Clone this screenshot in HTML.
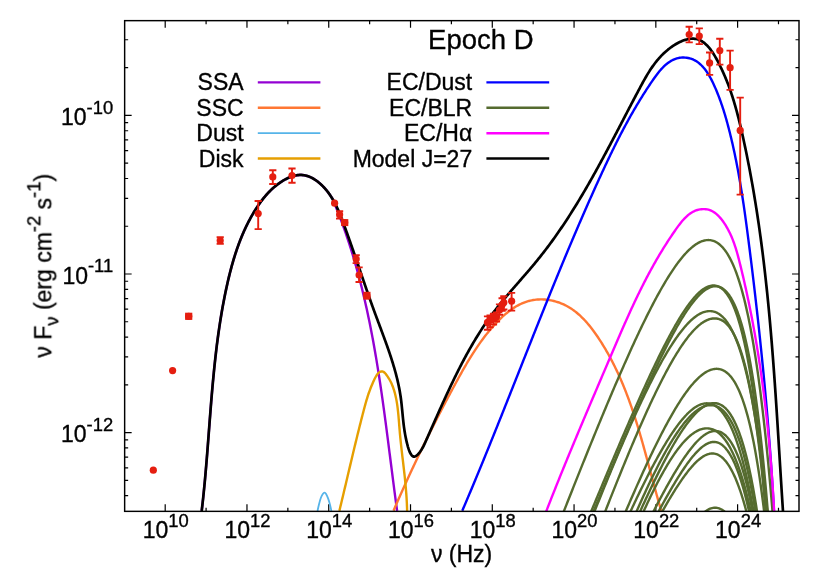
<!DOCTYPE html>
<html><head><meta charset="utf-8"><title>Epoch D SED</title>
<style>html,body{margin:0;padding:0;background:#fff;}body{width:830px;height:581px;overflow:hidden;font-family:"Liberation Sans",sans-serif;}</style></head>
<body>
<svg width="830" height="581" viewBox="0 0 830 581" style="display:block">
<rect width="100%" height="100%" fill="#fff"/>
<defs><clipPath id="cp"><rect x="124.65" y="20.65" width="674.35" height="490.70"/></clipPath></defs>
<path d="M165.20,511.35 v-7.00 M165.20,20.65 v7.00 M206.09,511.35 v-3.50 M206.09,20.65 v3.50 M246.97,511.35 v-7.00 M246.97,20.65 v7.00 M287.86,511.35 v-3.50 M287.86,20.65 v3.50 M328.74,511.35 v-7.00 M328.74,20.65 v7.00 M369.63,511.35 v-3.50 M369.63,20.65 v3.50 M410.52,511.35 v-7.00 M410.52,20.65 v7.00 M451.40,511.35 v-3.50 M451.40,20.65 v3.50 M492.29,511.35 v-7.00 M492.29,20.65 v7.00 M533.17,511.35 v-3.50 M533.17,20.65 v3.50 M574.06,511.35 v-7.00 M574.06,20.65 v7.00 M614.95,511.35 v-3.50 M614.95,20.65 v3.50 M655.83,511.35 v-7.00 M655.83,20.65 v7.00 M696.72,511.35 v-3.50 M696.72,20.65 v3.50 M737.60,511.35 v-7.00 M737.60,20.65 v7.00 M778.49,511.35 v-3.50 M778.49,20.65 v3.50 M124.65,495.71 h3.50 M799.00,495.71 h-3.50 M124.65,480.34 h3.50 M799.00,480.34 h-3.50 M124.65,467.79 h3.50 M799.00,467.79 h-3.50 M124.65,457.17 h3.50 M799.00,457.17 h-3.50 M124.65,447.97 h3.50 M799.00,447.97 h-3.50 M124.65,439.86 h3.50 M799.00,439.86 h-3.50 M124.65,432.60 h7.00 M799.00,432.60 h-7.00 M124.65,384.86 h3.50 M799.00,384.86 h-3.50 M124.65,356.93 h3.50 M799.00,356.93 h-3.50 M124.65,337.11 h3.50 M799.00,337.11 h-3.50 M124.65,321.74 h3.50 M799.00,321.74 h-3.50 M124.65,309.19 h3.50 M799.00,309.19 h-3.50 M124.65,298.57 h3.50 M799.00,298.57 h-3.50 M124.65,289.37 h3.50 M799.00,289.37 h-3.50 M124.65,281.26 h3.50 M799.00,281.26 h-3.50 M124.65,274.00 h7.00 M799.00,274.00 h-7.00 M124.65,226.26 h3.50 M799.00,226.26 h-3.50 M124.65,198.33 h3.50 M799.00,198.33 h-3.50 M124.65,178.51 h3.50 M799.00,178.51 h-3.50 M124.65,163.14 h3.50 M799.00,163.14 h-3.50 M124.65,150.59 h3.50 M799.00,150.59 h-3.50 M124.65,139.97 h3.50 M799.00,139.97 h-3.50 M124.65,130.77 h3.50 M799.00,130.77 h-3.50 M124.65,122.66 h3.50 M799.00,122.66 h-3.50 M124.65,115.40 h7.00 M799.00,115.40 h-7.00 M124.65,67.66 h3.50 M799.00,67.66 h-3.50 M124.65,39.73 h3.50 M799.00,39.73 h-3.50" stroke="#000" stroke-width="1.2" fill="none"/>
<g clip-path="url(#cp)" fill="none" stroke-linejoin="round" stroke-linecap="butt">
<path d="M201.68,510.99 L201.86,509.50 L202.03,508.01 L202.21,506.52 L202.38,505.02 L202.54,503.53 L202.71,502.04 L202.87,500.54 L203.04,499.05 L203.20,497.55 L203.35,496.06 L203.51,494.57 L203.66,493.07 L203.81,491.58 L203.96,490.08 L204.11,488.59 L204.26,487.09 L204.40,485.59 L204.55,484.10 L204.69,482.60 L204.83,481.11 L204.97,479.61 L205.11,478.11 L205.24,476.62 L205.38,475.12 L205.51,473.62 L205.64,472.13 L205.77,470.63 L205.90,469.13 L206.03,467.63 L206.16,466.14 L206.28,464.64 L206.41,463.14 L206.53,461.64 L206.65,460.14 L206.78,458.65 L206.90,457.15 L207.02,455.65 L207.14,454.15 L207.26,452.65 L207.38,451.15 L207.49,449.66 L207.61,448.16 L207.73,446.66 L207.85,445.16 L207.96,443.66 L208.08,442.16 L208.19,440.66 L208.31,439.16 L208.42,437.67 L208.54,436.17 L208.65,434.67 L208.76,433.17 L208.88,431.67 L208.99,430.17 L209.11,428.67 L209.22,427.17 L209.34,425.68 L209.45,424.18 L209.56,422.68 L209.68,421.18 L209.79,419.68 L209.91,418.18 L210.03,416.68 L210.14,415.19 L210.26,413.69 L210.38,412.19 L210.49,410.69 L210.61,409.19 L210.73,407.70 L210.85,406.20 L210.97,404.70 L211.09,403.20 L211.21,401.70 L211.34,400.21 L211.46,398.71 L211.59,397.21 L211.71,395.72 L211.84,394.22 L211.97,392.72 L212.09,391.23 L212.23,389.73 L212.36,388.23 L212.49,386.74 L212.62,385.24 L212.76,383.75 L212.89,382.25 L213.03,380.75 L213.17,379.26 L213.31,377.76 L213.46,376.27 L213.60,374.78 L213.75,373.28 L213.89,371.79 L214.04,370.29 L214.19,368.80 L214.35,367.31 L214.50,365.81 L214.66,364.32 L214.82,362.83 L214.98,361.33 L215.14,359.84 L215.31,358.35 L215.47,356.86 L215.64,355.37 L215.82,353.88 L215.99,352.39 L216.17,350.90 L216.34,349.41 L216.52,347.92 L216.71,346.43 L216.89,344.94 L217.08,343.45 L217.27,341.96 L217.47,340.47 L217.66,338.98 L217.86,337.50 L218.07,336.01 L218.27,334.52 L218.48,333.04 L218.69,331.55 L218.90,330.07 L219.12,328.58 L219.34,327.09 L219.56,325.61 L219.79,324.13 L220.02,322.64 L220.25,321.16 L220.48,319.68 L220.72,318.19 L220.96,316.71 L221.21,315.23 L221.46,313.75 L221.71,312.27 L221.97,310.79 L222.23,309.31 L222.49,307.83 L222.76,306.35 L223.03,304.87 L223.30,303.39 L223.58,301.92 L223.86,300.44 L224.15,298.96 L224.44,297.49 L224.73,296.01 L225.03,294.54 L225.33,293.06 L225.64,291.59 L225.95,290.11 L226.26,288.64 L226.58,287.17 L226.90,285.70 L227.23,284.22 L227.56,282.75 L227.90,281.29 L228.24,279.82 L228.59,278.35 L228.94,276.88 L229.30,275.42 L229.66,273.96 L230.03,272.50 L230.41,271.04 L230.79,269.58 L231.18,268.12 L231.57,266.67 L231.97,265.22 L232.38,263.77 L232.79,262.32 L233.21,260.88 L233.64,259.44 L234.08,258.00 L234.52,256.56 L234.97,255.13 L235.43,253.70 L235.90,252.27 L236.37,250.85 L236.85,249.43 L237.34,248.01 L237.84,246.60 L238.35,245.19 L238.87,243.79 L239.39,242.39 L239.93,240.99 L240.47,239.59 L241.03,238.21 L241.59,236.82 L242.16,235.44 L242.75,234.06 L243.34,232.69 L243.94,231.33 L244.56,229.97 L245.18,228.61 L245.81,227.26 L246.46,225.91 L247.12,224.57 L247.78,223.24 L248.46,221.91 L249.15,220.58 L249.85,219.27 L250.57,217.95 L251.29,216.65 L252.03,215.35 L252.78,214.05 L253.54,212.77 L254.31,211.49 L255.10,210.21 L255.90,208.94 L256.71,207.68 L257.54,206.43 L258.38,205.19 L259.23,203.95 L260.11,202.73 L260.99,201.51 L261.90,200.31 L262.82,199.12 L263.76,197.95 L264.71,196.78 L265.69,195.64 L266.69,194.51 L267.70,193.39 L268.74,192.29 L269.80,191.21 L270.88,190.15 L271.98,189.10 L273.10,188.08 L274.25,187.08 L275.43,186.10 L276.62,185.14 L277.85,184.20 L279.10,183.29 L280.37,182.40 L281.67,181.54 L283.00,180.72 L284.34,179.93 L285.70,179.18 L287.08,178.47 L288.47,177.82 L289.88,177.22 L291.29,176.68 L292.71,176.21 L294.14,175.80 L295.57,175.46 L297.00,175.21 L298.42,175.03 L299.85,174.94 L301.26,174.94 L302.67,175.03 L304.07,175.22 L305.45,175.49 L306.83,175.85 L308.19,176.29 L309.53,176.80 L310.86,177.38 L312.17,178.04 L313.47,178.76 L314.74,179.53 L315.99,180.37 L317.22,181.26 L318.42,182.19 L319.60,183.17 L320.76,184.20 L321.88,185.26 L322.98,186.35 L324.05,187.48 L325.08,188.62 L326.08,189.80 L327.05,190.98 L327.99,192.19 L328.90,193.41 L329.77,194.65 L330.62,195.91 L331.44,197.18 L332.23,198.46 L333.00,199.76 L333.78,201.89 L334.36,203.29 L334.94,204.69 L335.52,206.10 L336.09,207.50 L336.65,208.91 L337.22,210.31 L337.77,211.72 L338.33,213.13 L338.88,214.54 L339.42,215.95 L339.96,217.36 L340.50,218.78 L341.03,220.19 L341.56,221.61 L342.08,223.02 L342.60,224.44 L343.12,225.86 L343.63,227.28 L344.13,228.70 L344.64,230.13 L345.14,231.55 L345.63,232.97 L346.12,234.40 L346.61,235.83 L347.10,237.26 L347.58,238.68 L348.05,240.11 L348.52,241.55 L348.99,242.98 L349.46,244.41 L349.92,245.84 L350.38,247.28 L350.83,248.72 L351.28,250.15 L351.73,251.59 L352.17,253.03 L352.61,254.47 L353.04,255.91 L353.47,257.35 L353.90,258.79 L354.33,260.24 L354.75,261.68 L355.17,263.13 L355.58,264.58 L355.99,266.02 L356.40,267.47 L356.81,268.92 L357.21,270.37 L357.61,271.82 L358.00,273.27 L358.39,274.72 L358.78,276.18 L359.17,277.63 L359.55,279.09 L359.93,280.54 L360.31,282.00 L360.68,283.46 L361.05,284.91 L361.42,286.37 L361.78,287.83 L362.14,289.29 L362.50,290.75 L362.85,292.22 L363.21,293.68 L363.55,295.14 L363.90,296.61 L364.25,298.07 L364.59,299.54 L364.92,301.00 L365.26,302.47 L365.59,303.94 L365.92,305.41 L366.25,306.87 L366.57,308.34 L366.90,309.81 L367.22,311.29 L367.53,312.76 L367.85,314.23 L368.16,315.70 L368.47,317.18 L368.78,318.65 L369.08,320.12 L369.38,321.60 L369.68,323.07 L369.98,324.55 L370.28,326.03 L370.57,327.51 L370.86,328.98 L371.15,330.46 L371.43,331.94 L371.72,333.42 L372.00,334.90 L372.28,336.38 L372.56,337.86 L372.83,339.34 L373.10,340.83 L373.38,342.31 L373.64,343.79 L373.91,345.28 L374.18,346.76 L374.44,348.24 L374.70,349.73 L374.96,351.21 L375.22,352.70 L375.47,354.19 L375.73,355.67 L375.98,357.16 L376.23,358.65 L376.48,360.13 L376.73,361.62 L376.97,363.11 L377.21,364.60 L377.46,366.09 L377.70,367.58 L377.94,369.07 L378.17,370.56 L378.41,372.05 L378.64,373.54 L378.88,375.03 L379.11,376.52 L379.34,378.01 L379.56,379.50 L379.79,381.00 L380.02,382.49 L380.24,383.98 L380.46,385.47 L380.69,386.97 L380.91,388.46 L381.13,389.95 L381.34,391.45 L381.56,392.94 L381.78,394.44 L381.99,395.93 L382.20,397.42 L382.42,398.92 L382.63,400.41 L382.84,401.91 L383.05,403.40 L383.25,404.90 L383.46,406.40 L383.67,407.89 L383.87,409.39 L384.08,410.88 L384.28,412.38 L384.48,413.87 L384.69,415.37 L384.89,416.87 L385.09,418.36 L385.29,419.86 L385.49,421.36 L385.69,422.85 L385.88,424.35 L386.08,425.84 L386.28,427.34 L386.47,428.84 L386.67,430.33 L386.86,431.83 L387.06,433.33 L387.25,434.82 L387.45,436.32 L387.64,437.82 L387.83,439.31 L388.03,440.81 L388.22,442.31 L388.41,443.80 L388.60,445.30 L388.79,446.79 L388.98,448.29 L389.17,449.79 L389.36,451.28 L389.55,452.78 L389.75,454.27 L389.94,455.77 L390.13,457.26 L390.32,458.76 L390.51,460.25 L390.70,461.75 L390.89,463.24 L391.08,464.74 L391.27,466.23 L391.46,467.72 L391.65,469.22 L391.84,470.71 L392.03,472.21 L392.22,473.70 L392.41,475.19 L392.60,476.68 L392.79,478.18 L392.98,479.67 L393.18,481.16 L393.37,482.65 L393.56,484.14 L393.76,485.63 L393.95,487.13 L394.14,488.62 L394.34,490.11 L394.53,491.60 L394.73,493.09 L394.93,494.57 L395.12,496.06 L395.32,497.55 L395.52,499.04 L395.72,500.53 L395.92,502.02 L396.12,503.50 L396.32,504.99 L396.52,506.47 L396.72,507.96 L396.92,509.45 L397.13,510.93" stroke="#9400D3" stroke-width="2.40"/>
<path d="M393.54,510.68 L394.13,509.31 L394.72,507.94 L395.31,506.57 L395.90,505.20 L396.50,503.83 L397.10,502.46 L397.69,501.09 L398.29,499.72 L398.90,498.35 L399.50,496.98 L400.11,495.61 L400.72,494.24 L401.33,492.87 L401.94,491.50 L402.55,490.13 L403.16,488.76 L403.78,487.39 L404.40,486.02 L405.02,484.65 L405.64,483.28 L406.26,481.92 L406.89,480.55 L407.52,479.18 L408.14,477.81 L408.77,476.44 L409.41,475.07 L410.04,473.71 L410.67,472.34 L411.31,470.97 L411.95,469.61 L412.59,468.24 L413.23,466.87 L413.87,465.51 L414.51,464.14 L415.16,462.78 L415.81,461.41 L416.45,460.05 L417.10,458.69 L417.75,457.32 L418.41,455.96 L419.06,454.60 L419.72,453.24 L420.37,451.88 L421.03,450.52 L421.69,449.16 L422.35,447.80 L423.02,446.44 L423.68,445.08 L424.34,443.72 L425.01,442.37 L425.68,441.01 L426.35,439.66 L427.02,438.30 L427.69,436.95 L428.36,435.59 L429.04,434.24 L429.71,432.89 L430.39,431.54 L431.07,430.19 L431.75,428.84 L432.43,427.49 L433.11,426.14 L433.79,424.79 L434.48,423.44 L435.16,422.10 L435.85,420.75 L436.54,419.41 L437.22,418.07 L437.91,416.73 L438.61,415.38 L439.30,414.04 L439.99,412.70 L440.68,411.37 L441.38,410.03 L442.08,408.69 L442.77,407.36 L443.47,406.02 L444.17,404.69 L444.87,403.36 L445.57,402.03 L446.27,400.70 L446.98,399.37 L447.68,398.04 L448.39,396.71 L449.09,395.39 L449.80,394.06 L450.51,392.74 L451.22,391.42 L451.93,390.10 L452.64,388.78 L453.35,387.46 L454.06,386.14 L454.77,384.83 L455.49,383.51 L456.20,382.20 L456.92,380.89 L457.64,379.58 L458.35,378.27 L459.07,376.96 L459.80,375.66 L460.52,374.36 L461.25,373.05 L461.98,371.75 L462.71,370.46 L463.45,369.16 L464.19,367.87 L464.93,366.58 L465.68,365.29 L466.44,364.00 L467.19,362.72 L467.96,361.44 L468.73,360.16 L469.50,358.89 L470.28,357.62 L471.07,356.35 L471.86,355.08 L472.66,353.82 L473.46,352.56 L474.28,351.30 L475.10,350.05 L475.93,348.80 L476.76,347.56 L477.61,346.32 L478.46,345.08 L479.33,343.84 L480.20,342.62 L481.08,341.39 L481.97,340.17 L482.87,338.95 L483.78,337.74 L484.70,336.53 L485.64,335.33 L486.58,334.13 L487.54,332.93 L488.50,331.74 L489.48,330.56 L490.47,329.38 L491.48,328.21 L492.49,327.04 L493.52,325.88 L494.56,324.72 L495.62,323.58 L496.68,322.44 L497.76,321.32 L498.86,320.22 L499.96,319.12 L501.08,318.05 L502.21,316.99 L503.35,315.95 L504.51,314.92 L505.68,313.92 L506.86,312.95 L508.05,311.99 L509.26,311.06 L510.48,310.16 L511.71,309.28 L512.96,308.44 L514.21,307.62 L515.48,306.83 L516.77,306.08 L518.07,305.36 L519.37,304.68 L520.70,304.03 L522.03,303.42 L523.38,302.85 L524.74,302.31 L526.12,301.82 L527.50,301.38 L528.90,300.97 L530.32,300.62 L531.74,300.31 L533.18,300.04 L534.63,299.82 L536.09,299.65 L537.55,299.52 L539.03,299.44 L540.50,299.41 L541.99,299.41 L543.47,299.46 L544.95,299.56 L546.44,299.69 L547.92,299.87 L549.39,300.09 L550.87,300.35 L552.33,300.65 L553.79,300.99 L555.24,301.37 L556.68,301.78 L558.10,302.24 L559.51,302.73 L560.91,303.27 L562.29,303.83 L563.65,304.44 L564.99,305.08 L566.32,305.75 L567.62,306.46 L568.90,307.20 L570.16,307.98 L571.40,308.78 L572.63,309.62 L573.84,310.49 L575.02,311.38 L576.20,312.30 L577.35,313.25 L578.48,314.22 L579.60,315.22 L580.71,316.24 L581.79,317.28 L582.86,318.35 L583.92,319.43 L584.96,320.54 L585.99,321.66 L587.00,322.80 L587.99,323.96 L588.98,325.14 L589.95,326.33 L590.90,327.53 L591.85,328.75 L592.78,329.97 L593.70,331.21 L594.60,332.46 L595.50,333.72 L596.38,334.99 L597.26,336.26 L598.12,337.54 L598.97,338.83 L599.81,340.12 L600.65,341.41 L601.47,342.70 L602.28,344.00 L603.09,345.31 L603.88,346.61 L604.67,347.92 L605.45,349.23 L606.21,350.55 L606.97,351.87 L607.72,353.19 L608.47,354.51 L609.20,355.84 L609.92,357.17 L610.64,358.50 L611.35,359.84 L612.05,361.17 L612.74,362.52 L613.43,363.86 L614.11,365.21 L614.78,366.56 L615.44,367.91 L616.09,369.26 L616.74,370.62 L617.38,371.98 L618.01,373.34 L618.64,374.71 L619.26,376.07 L619.87,377.44 L620.48,378.82 L621.07,380.19 L621.67,381.57 L622.25,382.95 L622.83,384.33 L623.41,385.71 L623.97,387.10 L624.53,388.49 L625.09,389.88 L625.64,391.27 L626.18,392.66 L626.72,394.06 L627.25,395.46 L627.78,396.86 L628.30,398.26 L628.82,399.66 L629.33,401.07 L629.84,402.48 L630.34,403.89 L630.84,405.30 L631.33,406.71 L631.82,408.13 L632.30,409.54 L632.78,410.96 L633.26,412.38 L633.73,413.80 L634.20,415.23 L634.66,416.65 L635.12,418.08 L635.58,419.51 L636.03,420.94 L636.48,422.37 L636.92,423.80 L637.36,425.23 L637.80,426.67 L638.24,428.10 L638.67,429.54 L639.10,430.98 L639.53,432.42 L639.95,433.86 L640.37,435.30 L640.79,436.74 L641.21,438.19 L641.62,439.63 L642.04,441.08 L642.45,442.52 L642.86,443.97 L643.26,445.42 L643.67,446.87 L644.07,448.32 L644.47,449.77 L644.87,451.22 L645.27,452.67 L645.67,454.13 L646.06,455.58 L646.46,457.04 L646.85,458.49 L647.25,459.95 L647.64,461.40 L648.03,462.86 L648.43,464.32 L648.82,465.78 L649.21,467.23 L649.60,468.69 L649.99,470.15 L650.38,471.61 L650.77,473.07 L651.16,474.53 L651.56,475.99 L651.95,477.45 L652.34,478.91 L652.73,480.37 L653.13,481.83 L653.52,483.29 L653.92,484.75 L654.31,486.21 L654.71,487.67 L655.11,489.13 L655.51,490.59 L655.91,492.05 L656.32,493.51 L656.72,494.97 L657.13,496.43 L657.54,497.89 L657.95,499.35 L658.36,500.81 L658.78,502.27 L659.20,503.72 L659.62,505.18 L660.04,506.64 L660.46,508.09 L660.89,509.55 L661.32,511.01" stroke="#FF7733" stroke-width="2.40"/>
<path d="M317.50,511.00 C317.73,509.95 318.35,506.87 318.90,504.70 C319.45,502.53 320.15,499.77 320.80,498.00 C321.45,496.23 322.18,494.98 322.80,494.10 C323.42,493.22 323.95,492.73 324.50,492.70 C325.05,492.67 325.50,492.95 326.10,493.90 C326.70,494.85 327.45,496.60 328.10,498.40 C328.75,500.20 329.45,502.60 330.00,504.70 C330.55,506.80 331.17,509.95 331.40,511.00" stroke="#56B4E9" stroke-width="1.80"/>
<path d="M339.36,510.90 L339.71,509.46 L340.06,508.03 L340.41,506.59 L340.75,505.14 L341.10,503.70 L341.45,502.25 L341.80,500.80 L342.14,499.34 L342.49,497.88 L342.84,496.42 L343.19,494.96 L343.54,493.50 L343.88,492.03 L344.23,490.56 L344.58,489.09 L344.93,487.62 L345.28,486.14 L345.63,484.67 L345.97,483.19 L346.32,481.71 L346.67,480.23 L347.02,478.75 L347.37,477.27 L347.72,475.78 L348.07,474.30 L348.42,472.81 L348.77,471.33 L349.12,469.84 L349.47,468.36 L349.82,466.87 L350.18,465.38 L350.53,463.90 L350.88,462.41 L351.23,460.92 L351.59,459.43 L351.94,457.95 L352.29,456.46 L352.65,454.98 L353.00,453.49 L353.35,452.01 L353.71,450.53 L354.07,449.04 L354.42,447.56 L354.78,446.08 L355.13,444.61 L355.49,443.13 L355.85,441.65 L356.21,440.18 L356.57,438.71 L356.93,437.24 L357.29,435.77 L357.65,434.31 L358.01,432.84 L358.37,431.38 L358.73,429.92 L359.09,428.47 L359.46,427.01 L359.82,425.56 L360.19,424.11 L360.55,422.67 L360.92,421.23 L361.28,419.79 L361.65,418.35 L362.02,416.92 L362.39,415.49 L362.76,414.07 L363.13,412.65 L363.50,411.23 L363.87,409.82 L364.24,408.41 L364.61,407.00 L364.99,405.60 L365.38,404.19 L365.77,402.78 L366.17,401.37 L366.59,399.96 L367.02,398.54 L367.46,397.11 L367.92,395.67 L368.40,394.22 L368.90,392.76 L369.42,391.29 L369.97,389.80 L370.55,388.29 L371.15,386.77 L371.79,385.22 L372.45,383.66 L373.15,382.07 L373.89,380.45 L374.67,378.83 L375.48,377.24 L376.35,375.74 L377.27,374.38 L378.24,373.22 L379.28,372.30 L380.38,371.68 L381.51,371.39 L382.63,371.47 L383.69,371.95 L384.69,372.76 L385.62,373.80 L386.50,374.94 L387.34,376.11 L388.14,377.30 L388.89,378.52 L389.61,379.76 L390.29,381.03 L390.94,382.31 L391.54,383.62 L392.12,384.95 L392.66,386.29 L393.17,387.66 L393.64,389.04 L394.09,390.44 L394.52,391.85 L394.91,393.28 L395.28,394.73 L395.62,396.18 L395.95,397.65 L396.25,399.13 L396.53,400.63 L396.79,402.13 L397.03,403.64 L397.26,405.16 L397.47,406.69 L397.66,408.22 L397.84,409.77 L398.02,411.31 L398.18,412.86 L398.33,414.42 L398.47,415.97 L398.61,417.53 L398.74,419.09 L398.87,420.65 L398.99,422.21 L399.11,423.77 L399.23,425.32 L399.36,426.88 L399.48,428.42 L399.61,429.97 L399.74,431.51 L399.87,433.04 L400.02,434.57 L400.16,436.09 L400.31,437.61 L400.46,439.12 L400.61,440.63 L400.77,442.14 L400.93,443.64 L401.09,445.14 L401.26,446.63 L401.43,448.12 L401.59,449.61 L401.77,451.10 L401.94,452.58 L402.11,454.06 L402.28,455.54 L402.46,457.02 L402.63,458.50 L402.81,459.97 L402.98,461.45 L403.16,462.92 L403.33,464.39 L403.50,465.87 L403.68,467.34 L403.85,468.81 L404.02,470.29 L404.18,471.76 L404.35,473.24 L404.51,474.71 L404.67,476.19 L404.83,477.67 L404.98,479.15 L405.13,480.63 L405.28,482.12 L405.43,483.61 L405.57,485.10 L405.70,486.59 L405.84,488.09 L405.96,489.59 L406.08,491.09 L406.20,492.60 L406.31,494.11 L406.42,495.63 L406.52,497.15 L406.61,498.68 L406.70,500.21 L406.78,501.75 L406.86,503.29 L406.92,504.84 L406.98,506.40 L407.04,507.96 L407.08,509.52 L407.12,511.10" stroke="#E69F00" stroke-width="2.40"/>
<path d="M462.25,510.80 L462.83,509.44 L463.41,508.08 L464.00,506.71 L464.58,505.35 L465.16,503.98 L465.75,502.62 L466.33,501.25 L466.91,499.88 L467.49,498.51 L468.07,497.14 L468.65,495.77 L469.23,494.40 L469.80,493.03 L470.38,491.66 L470.96,490.29 L471.54,488.92 L472.11,487.54 L472.69,486.17 L473.26,484.79 L473.84,483.42 L474.41,482.04 L474.98,480.67 L475.56,479.29 L476.13,477.91 L476.70,476.53 L477.27,475.16 L477.85,473.78 L478.42,472.40 L478.99,471.02 L479.56,469.64 L480.13,468.26 L480.70,466.87 L481.27,465.49 L481.83,464.11 L482.40,462.72 L482.97,461.34 L483.54,459.96 L484.10,458.57 L484.67,457.19 L485.24,455.80 L485.80,454.41 L486.37,453.03 L486.93,451.64 L487.50,450.25 L488.06,448.87 L488.63,447.48 L489.19,446.09 L489.75,444.70 L490.32,443.31 L490.88,441.92 L491.44,440.53 L492.01,439.14 L492.57,437.75 L493.13,436.36 L493.69,434.96 L494.25,433.57 L494.81,432.18 L495.37,430.79 L495.93,429.39 L496.50,428.00 L497.06,426.60 L497.62,425.21 L498.17,423.81 L498.73,422.42 L499.29,421.02 L499.85,419.63 L500.41,418.23 L500.97,416.84 L501.53,415.44 L502.09,414.04 L502.65,412.65 L503.20,411.25 L503.76,409.85 L504.32,408.45 L504.88,407.05 L505.43,405.66 L505.99,404.26 L506.55,402.86 L507.10,401.46 L507.66,400.06 L508.22,398.66 L508.78,397.26 L509.33,395.86 L509.89,394.46 L510.45,393.06 L511.00,391.66 L511.56,390.26 L512.11,388.86 L512.67,387.46 L513.23,386.06 L513.78,384.66 L514.34,383.25 L514.89,381.85 L515.45,380.45 L516.01,379.05 L516.56,377.65 L517.12,376.25 L517.67,374.84 L518.23,373.44 L518.79,372.04 L519.34,370.64 L519.90,369.23 L520.45,367.83 L521.01,366.43 L521.57,365.03 L522.12,363.62 L522.68,362.22 L523.24,360.82 L523.79,359.42 L524.35,358.01 L524.91,356.61 L525.46,355.21 L526.02,353.80 L526.58,352.40 L527.13,351.00 L527.69,349.59 L528.25,348.19 L528.80,346.79 L529.36,345.39 L529.92,343.98 L530.48,342.58 L531.04,341.18 L531.59,339.78 L532.15,338.37 L532.71,336.97 L533.27,335.57 L533.83,334.17 L534.39,332.76 L534.95,331.36 L535.50,329.96 L536.06,328.56 L536.62,327.15 L537.18,325.75 L537.74,324.35 L538.30,322.95 L538.87,321.55 L539.43,320.15 L539.99,318.75 L540.55,317.34 L541.11,315.94 L541.67,314.54 L542.23,313.14 L542.80,311.74 L543.36,310.34 L543.92,308.94 L544.49,307.54 L545.05,306.14 L545.61,304.74 L546.18,303.34 L546.74,301.95 L547.31,300.55 L547.87,299.15 L548.44,297.75 L549.01,296.35 L549.57,294.95 L550.14,293.56 L550.71,292.16 L551.27,290.76 L551.84,289.37 L552.41,287.97 L552.98,286.57 L553.55,285.18 L554.12,283.78 L554.69,282.39 L555.26,280.99 L555.83,279.60 L556.40,278.20 L556.97,276.81 L557.54,275.42 L558.12,274.02 L558.69,272.63 L559.26,271.24 L559.84,269.85 L560.41,268.45 L560.98,267.06 L561.56,265.67 L562.14,264.28 L562.71,262.89 L563.29,261.50 L563.87,260.11 L564.44,258.72 L565.02,257.33 L565.60,255.95 L566.18,254.56 L566.76,253.17 L567.34,251.78 L567.92,250.40 L568.50,249.01 L569.09,247.63 L569.67,246.24 L570.25,244.86 L570.84,243.47 L571.42,242.09 L572.01,240.71 L572.59,239.32 L573.18,237.94 L573.77,236.56 L574.35,235.18 L574.94,233.80 L575.53,232.42 L576.12,231.04 L576.71,229.66 L577.30,228.28 L577.89,226.91 L578.49,225.53 L579.08,224.15 L579.67,222.78 L580.27,221.40 L580.86,220.03 L581.46,218.65 L582.05,217.28 L582.65,215.91 L583.25,214.53 L583.85,213.16 L584.45,211.79 L585.05,210.42 L585.65,209.05 L586.25,207.68 L586.85,206.31 L587.45,204.94 L588.06,203.58 L588.66,202.21 L589.27,200.84 L589.87,199.48 L590.48,198.12 L591.09,196.75 L591.70,195.39 L592.31,194.03 L592.92,192.66 L593.53,191.30 L594.14,189.94 L594.75,188.58 L595.36,187.22 L595.98,185.87 L596.59,184.51 L597.21,183.15 L597.83,181.80 L598.45,180.44 L599.06,179.09 L599.68,177.73 L600.30,176.38 L600.93,175.03 L601.55,173.68 L602.17,172.33 L602.80,170.98 L603.42,169.63 L604.05,168.28 L604.68,166.94 L605.31,165.59 L605.94,164.24 L606.57,162.90 L607.21,161.55 L607.85,160.21 L608.48,158.87 L609.13,157.53 L609.77,156.19 L610.41,154.85 L611.06,153.51 L611.71,152.17 L612.36,150.83 L613.02,149.49 L613.67,148.15 L614.33,146.82 L615.00,145.48 L615.66,144.15 L616.33,142.81 L617.00,141.48 L617.67,140.15 L618.35,138.82 L619.03,137.48 L619.71,136.15 L620.40,134.82 L621.09,133.49 L621.78,132.16 L622.48,130.84 L623.18,129.51 L623.88,128.18 L624.59,126.86 L625.30,125.53 L626.02,124.21 L626.74,122.88 L627.46,121.56 L628.19,120.24 L628.92,118.91 L629.66,117.59 L630.40,116.27 L631.15,114.95 L631.90,113.63 L632.65,112.31 L633.41,110.99 L634.17,109.67 L634.94,108.36 L635.72,107.04 L636.50,105.72 L637.28,104.41 L638.07,103.09 L638.86,101.78 L639.66,100.46 L640.47,99.15 L641.28,97.84 L642.10,96.52 L642.92,95.21 L643.75,93.90 L644.58,92.59 L645.42,91.28 L646.27,89.97 L647.12,88.66 L647.97,87.35 L648.84,86.04 L649.71,84.73 L650.59,83.43 L651.47,82.12 L652.36,80.81 L653.26,79.51 L654.16,78.22 L655.08,76.94 L656.01,75.68 L656.94,74.43 L657.89,73.20 L658.86,71.99 L659.84,70.81 L660.83,69.66 L661.84,68.55 L662.87,67.47 L663.91,66.42 L664.97,65.42 L666.06,64.47 L667.16,63.56 L668.28,62.70 L669.43,61.90 L670.60,61.16 L671.80,60.47 L673.02,59.85 L674.26,59.30 L675.54,58.81 L676.84,58.40 L678.17,58.06 L679.53,57.80 L680.92,57.62 L682.33,57.53 L683.76,57.52 L685.20,57.59 L686.64,57.74 L688.07,57.97 L689.48,58.29 L690.86,58.68 L692.20,59.15 L693.51,59.71 L694.78,60.34 L696.01,61.04 L697.20,61.81 L698.35,62.64 L699.47,63.54 L700.56,64.49 L701.61,65.51 L702.63,66.57 L703.62,67.69 L704.57,68.85 L705.50,70.05 L706.40,71.29 L707.28,72.57 L708.12,73.88 L708.95,75.23 L709.74,76.60 L710.52,77.99 L711.27,79.40 L712.00,80.83 L712.71,82.28 L713.40,83.73 L714.07,85.19 L714.73,86.66 L715.37,88.12 L715.99,89.59 L716.60,91.05 L717.20,92.50 L717.78,93.96 L718.35,95.40 L718.90,96.85 L719.45,98.29 L719.98,99.73 L720.50,101.16 L721.01,102.60 L721.50,104.03 L721.99,105.46 L722.47,106.88 L722.93,108.31 L723.39,109.73 L723.84,111.16 L724.28,112.58 L724.72,114.00 L725.14,115.43 L725.56,116.85 L725.97,118.27 L726.38,119.69 L726.77,121.11 L727.17,122.54 L727.56,123.96 L727.94,125.39 L728.32,126.82 L728.69,128.25 L729.06,129.68 L729.43,131.11 L729.79,132.55 L730.15,133.98 L730.50,135.42 L730.85,136.86 L731.20,138.30 L731.54,139.75 L731.88,141.19 L732.22,142.64 L732.55,144.09 L732.88,145.53 L733.20,146.99 L733.53,148.44 L733.84,149.89 L734.16,151.35 L734.47,152.80 L734.78,154.26 L735.08,155.72 L735.38,157.18 L735.68,158.64 L735.97,160.10 L736.27,161.57 L736.55,163.03 L736.84,164.50 L737.12,165.96 L737.40,167.43 L737.68,168.90 L737.95,170.37 L738.22,171.84 L738.49,173.32 L738.76,174.79 L739.02,176.26 L739.28,177.74 L739.54,179.22 L739.80,180.69 L740.05,182.17 L740.30,183.65 L740.55,185.13 L740.79,186.61 L741.04,188.10 L741.28,189.58 L741.52,191.06 L741.75,192.55 L741.99,194.03 L742.22,195.52 L742.45,197.00 L742.68,198.49 L742.91,199.98 L743.13,201.46 L743.36,202.95 L743.58,204.44 L743.80,205.93 L744.01,207.42 L744.23,208.91 L744.44,210.40 L744.66,211.90 L744.87,213.39 L745.08,214.88 L745.29,216.37 L745.49,217.87 L745.70,219.36 L745.91,220.85 L746.11,222.35 L746.31,223.84 L746.51,225.34 L746.71,226.83 L746.91,228.33 L747.11,229.82 L747.31,231.32 L747.50,232.81 L747.70,234.31 L747.89,235.81 L748.08,237.30 L748.28,238.80 L748.47,240.29 L748.66,241.79 L748.85,243.28 L749.04,244.78 L749.23,246.28 L749.42,247.77 L749.61,249.27 L749.80,250.76 L749.98,252.26 L750.17,253.75 L750.36,255.25 L750.54,256.74 L750.73,258.24 L750.92,259.73 L751.10,261.23 L751.28,262.72 L751.47,264.22 L751.65,265.71 L751.83,267.20 L752.02,268.70 L752.20,270.19 L752.38,271.69 L752.56,273.18 L752.74,274.67 L752.92,276.17 L753.10,277.66 L753.28,279.16 L753.46,280.65 L753.64,282.14 L753.81,283.64 L753.99,285.13 L754.17,286.62 L754.34,288.12 L754.52,289.61 L754.69,291.10 L754.87,292.60 L755.04,294.09 L755.22,295.58 L755.39,297.08 L755.56,298.57 L755.73,300.06 L755.90,301.55 L756.07,303.05 L756.24,304.54 L756.41,306.03 L756.58,307.53 L756.75,309.02 L756.92,310.51 L757.09,312.00 L757.25,313.50 L757.42,314.99 L757.59,316.48 L757.75,317.97 L757.92,319.47 L758.08,320.96 L758.24,322.45 L758.41,323.94 L758.57,325.44 L758.73,326.93 L758.89,328.42 L759.06,329.91 L759.22,331.41 L759.38,332.90 L759.54,334.39 L759.69,335.88 L759.85,337.38 L760.01,338.87 L760.17,340.36 L760.32,341.85 L760.48,343.35 L760.63,344.84 L760.79,346.33 L760.94,347.82 L761.10,349.32 L761.25,350.81 L761.40,352.30 L761.55,353.80 L761.71,355.29 L761.86,356.78 L762.01,358.27 L762.16,359.77 L762.31,361.26 L762.45,362.75 L762.60,364.25 L762.75,365.74 L762.90,367.23 L763.04,368.72 L763.19,370.22 L763.33,371.71 L763.48,373.20 L763.62,374.70 L763.76,376.19 L763.91,377.68 L764.05,379.18 L764.19,380.67 L764.33,382.16 L764.47,383.66 L764.61,385.15 L764.75,386.65 L764.89,388.14 L765.02,389.63 L765.16,391.13 L765.30,392.62 L765.43,394.12 L765.57,395.61 L765.70,397.10 L765.84,398.60 L765.97,400.09 L766.10,401.59 L766.23,403.08 L766.36,404.58 L766.50,406.07 L766.63,407.57 L766.75,409.06 L766.88,410.56 L767.01,412.05 L767.14,413.55 L767.27,415.04 L767.39,416.54 L767.52,418.03 L767.64,419.53 L767.77,421.03 L767.89,422.52 L768.01,424.02 L768.14,425.51 L768.26,427.01 L768.38,428.51 L768.50,430.00 L768.62,431.50 L768.74,433.00 L768.86,434.49 L768.97,435.99 L769.09,437.49 L769.21,438.99 L769.32,440.48 L769.44,441.98 L769.55,443.48 L769.67,444.98 L769.78,446.47 L769.89,447.97 L770.00,449.47 L770.11,450.97 L770.22,452.47 L770.33,453.97 L770.44,455.47 L770.55,456.97 L770.66,458.46 L770.76,459.96 L770.87,461.46 L770.98,462.96 L771.08,464.46 L771.19,465.96 L771.29,467.46 L771.39,468.96 L771.49,470.46 L771.59,471.97 L771.69,473.47 L771.79,474.97 L771.89,476.47 L771.99,477.97 L772.09,479.47 L772.19,480.97 L772.28,482.48 L772.38,483.98 L772.47,485.48 L772.57,486.98 L772.66,488.49 L772.75,489.99 L772.85,491.49 L772.94,493.00 L773.03,494.50 L773.12,496.00 L773.21,497.51 L773.30,499.01 L773.38,500.52 L773.47,502.02 L773.56,503.53 L773.64,505.03 L773.73,506.54 L773.81,508.04 L773.89,509.55 L773.98,511.05" stroke="#0000FF" stroke-width="2.40"/>
<path d="M553.30,538.16 L554.30,535.61 L555.30,533.05 L556.30,530.50 L557.30,527.95 L558.30,525.41 L559.30,522.86 L560.30,520.31 L561.30,517.77 L562.30,515.23 L563.30,512.69 L564.30,510.16 L565.30,507.62 L566.30,505.09 L567.30,502.56 L568.30,500.03 L569.30,497.50 L570.30,494.98 L571.30,492.46 L572.30,489.94 L573.30,487.43 L574.30,484.91 L575.30,482.40 L576.30,479.89 L577.30,477.39 L578.30,474.89 L579.30,472.39 L580.30,469.89 L581.30,467.40 L582.30,464.91 L583.30,462.42 L584.30,459.94 L585.30,457.45 L586.30,454.98 L587.30,452.50 L588.30,450.03 L589.30,447.57 L590.30,445.10 L591.30,442.65 L592.30,440.19 L593.30,437.74 L594.30,435.29 L595.30,432.85 L596.30,430.41 L597.30,427.98 L598.30,425.55 L599.30,423.13 L600.30,420.71 L601.30,418.29 L602.30,415.88 L603.30,413.48 L604.30,411.08 L605.30,408.68 L606.30,406.29 L607.30,403.91 L608.30,401.53 L609.30,399.16 L610.30,396.79 L611.30,394.44 L612.30,392.08 L613.30,389.74 L614.30,387.40 L615.30,385.06 L616.30,382.74 L617.30,380.42 L618.30,378.10 L619.30,375.80 L620.30,373.50 L621.30,371.21 L622.30,368.93 L623.30,366.66 L624.30,364.39 L625.30,362.14 L626.30,359.89 L627.30,357.65 L628.30,355.42 L629.30,353.20 L630.30,350.99 L631.30,348.79 L632.30,346.60 L633.30,344.42 L634.30,342.25 L635.30,340.10 L636.30,337.95 L637.30,335.81 L638.30,333.69 L639.30,331.57 L640.30,329.47 L641.30,327.39 L642.30,325.31 L643.30,323.25 L644.30,321.20 L645.30,319.17 L646.30,317.14 L647.30,315.14 L648.30,313.15 L649.30,311.17 L650.30,309.21 L651.30,307.26 L652.30,305.33 L653.30,303.42 L654.30,301.52 L655.30,299.64 L656.30,297.78 L657.30,295.94 L658.30,294.12 L659.30,292.31 L660.30,290.53 L661.30,288.76 L662.30,287.01 L663.30,285.29 L664.30,283.59 L665.30,281.91 L666.30,280.25 L667.30,278.61 L668.30,277.00 L669.30,275.41 L670.30,273.85 L671.30,272.31 L672.30,270.80 L673.30,269.31 L674.30,267.85 L675.30,266.42 L676.30,265.02 L677.30,263.65 L678.30,262.30 L679.30,260.99 L680.30,259.71 L681.30,258.46 L682.30,257.24 L683.30,256.06 L684.30,254.91 L685.30,253.79 L686.30,252.72 L687.30,251.67 L688.30,250.67 L689.30,249.70 L690.30,248.78 L691.30,247.89 L692.30,247.05 L693.30,246.25 L694.30,245.49 L695.30,244.78 L696.30,244.11 L697.30,243.48 L698.30,242.91 L699.30,242.39 L700.30,241.91 L701.30,241.49 L702.30,241.11 L703.30,240.79 L704.30,240.53 L705.30,240.32 L706.30,240.17 L707.30,240.08 L708.30,240.05 L709.30,240.08 L710.30,240.18 L711.30,240.34 L712.30,240.57 L713.30,240.86 L714.30,241.23 L715.30,241.68 L716.30,242.20 L717.30,242.80 L718.30,243.47 L719.30,244.24 L720.30,245.09 L721.30,246.02 L722.30,247.05 L723.30,248.17 L724.30,249.39 L725.30,250.71 L726.30,252.14 L727.30,253.67 L728.30,255.31 L729.30,257.06 L730.30,258.93 L731.30,260.91 L732.30,263.03 L733.30,265.26 L734.30,267.63 L735.30,270.14 L736.30,272.78 L737.30,275.57 L738.30,278.51 L739.30,281.60 L740.30,284.84 L741.30,288.25 L742.30,291.83 L743.30,295.58 L744.30,299.50 L745.30,303.61 L746.30,307.91 L747.30,312.40 L748.30,317.09 L749.30,321.98 L750.30,327.09 L751.30,332.42 L752.30,337.98 L753.30,343.77 L754.30,349.79 L755.30,356.07 L756.30,362.60 L757.30,369.39 L758.30,376.45 L759.30,383.80 L760.30,391.43 L761.30,399.35 L762.30,407.58 L763.30,416.13 L764.30,425.00 L765.30,434.20 L766.30,443.75 L767.30,453.66 L768.30,463.93 L769.30,474.58 L770.30,485.61 L771.30,497.05 L772.30,508.90 L773.30,521.18 L774.30,533.89" stroke="#556B2F" stroke-width="2.40"/>
<path d="M579.45,539.79 L580.45,537.37 L581.45,534.95 L582.45,532.53 L583.45,530.12 L584.45,527.70 L585.45,525.29 L586.45,522.87 L587.45,520.46 L588.45,518.05 L589.45,515.64 L590.45,513.23 L591.45,510.82 L592.45,508.42 L593.45,506.01 L594.45,503.61 L595.45,501.21 L596.45,498.81 L597.45,496.41 L598.45,494.02 L599.45,491.62 L600.45,489.23 L601.45,486.84 L602.45,484.46 L603.45,482.07 L604.45,479.69 L605.45,477.31 L606.45,474.93 L607.45,472.55 L608.45,470.18 L609.45,467.81 L610.45,465.44 L611.45,463.07 L612.45,460.71 L613.45,458.35 L614.45,455.99 L615.45,453.64 L616.45,451.29 L617.45,448.94 L618.45,446.60 L619.45,444.26 L620.45,441.93 L621.45,439.59 L622.45,437.27 L623.45,434.94 L624.45,432.62 L625.45,430.31 L626.45,428.00 L627.45,425.69 L628.45,423.39 L629.45,421.09 L630.45,418.80 L631.45,416.52 L632.45,414.24 L633.45,411.96 L634.45,409.69 L635.45,407.43 L636.45,405.17 L637.45,402.92 L638.45,400.68 L639.45,398.45 L640.45,396.22 L641.45,393.99 L642.45,391.78 L643.45,389.57 L644.45,387.38 L645.45,385.19 L646.45,383.01 L647.45,380.84 L648.45,378.67 L649.45,376.52 L650.45,374.38 L651.45,372.25 L652.45,370.12 L653.45,368.01 L654.45,365.91 L655.45,363.82 L656.45,361.75 L657.45,359.69 L658.45,357.63 L659.45,355.60 L660.45,353.57 L661.45,351.56 L662.45,349.57 L663.45,347.59 L664.45,345.63 L665.45,343.68 L666.45,341.75 L667.45,339.83 L668.45,337.94 L669.45,336.06 L670.45,334.20 L671.45,332.36 L672.45,330.55 L673.45,328.75 L674.45,326.97 L675.45,325.22 L676.45,323.49 L677.45,321.78 L678.45,320.10 L679.45,318.45 L680.45,316.82 L681.45,315.22 L682.45,313.64 L683.45,312.10 L684.45,310.58 L685.45,309.10 L686.45,307.65 L687.45,306.23 L688.45,304.84 L689.45,303.49 L690.45,302.18 L691.45,300.91 L692.45,299.67 L693.45,298.48 L694.45,297.32 L695.45,296.21 L696.45,295.15 L697.45,294.13 L698.45,293.15 L699.45,292.23 L700.45,291.36 L701.45,290.54 L702.45,289.77 L703.45,289.06 L704.45,288.41 L705.45,287.81 L706.45,287.28 L707.45,286.81 L708.45,286.41 L709.45,286.08 L710.45,285.81 L711.45,285.62 L712.45,285.50 L713.45,285.46 L714.45,285.50 L715.45,285.63 L716.45,285.84 L717.45,286.14 L718.45,286.53 L719.45,287.01 L720.45,287.60 L721.45,288.28 L722.45,289.08 L723.45,289.98 L724.45,291.00 L725.45,292.13 L726.45,293.39 L727.45,294.77 L728.45,296.29 L729.45,297.94 L730.45,299.73 L731.45,301.67 L732.45,303.76 L733.45,306.01 L734.45,308.42 L735.45,311.00 L736.45,313.75 L737.45,316.68 L738.45,319.80 L739.45,323.12 L740.45,326.63 L741.45,330.35 L742.45,334.29 L743.45,338.46 L744.45,342.85 L745.45,347.49 L746.45,352.37 L747.45,357.51 L748.45,362.92 L749.45,368.60 L750.45,374.57 L751.45,380.84 L752.45,387.41 L753.45,394.31 L754.45,401.53 L755.45,409.10 L756.45,417.02 L757.45,425.31 L758.45,433.98 L759.45,443.04 L760.45,452.51 L761.45,462.41 L762.45,472.74 L763.45,483.53 L764.45,494.78 L765.45,506.53 L766.45,518.78 L767.45,531.56" stroke="#556B2F" stroke-width="2.40"/>
<path d="M582.45,538.17 L583.45,535.75 L584.45,533.33 L585.45,530.92 L586.45,528.50 L587.45,526.09 L588.45,523.67 L589.45,521.26 L590.45,518.85 L591.45,516.44 L592.45,514.03 L593.45,511.62 L594.45,509.22 L595.45,506.81 L596.45,504.41 L597.45,502.01 L598.45,499.61 L599.45,497.21 L600.45,494.82 L601.45,492.42 L602.45,490.03 L603.45,487.64 L604.45,485.26 L605.45,482.87 L606.45,480.49 L607.45,478.11 L608.45,475.73 L609.45,473.35 L610.45,470.98 L611.45,468.61 L612.45,466.24 L613.45,463.87 L614.45,461.51 L615.45,459.15 L616.45,456.79 L617.45,454.44 L618.45,452.09 L619.45,449.74 L620.45,447.40 L621.45,445.06 L622.45,442.73 L623.45,440.39 L624.45,438.07 L625.45,435.74 L626.45,433.42 L627.45,431.11 L628.45,428.80 L629.45,426.49 L630.45,424.19 L631.45,421.89 L632.45,419.60 L633.45,417.32 L634.45,415.04 L635.45,412.76 L636.45,410.49 L637.45,408.23 L638.45,405.97 L639.45,403.72 L640.45,401.48 L641.45,399.25 L642.45,397.02 L643.45,394.79 L644.45,392.58 L645.45,390.37 L646.45,388.18 L647.45,385.99 L648.45,383.81 L649.45,381.64 L650.45,379.47 L651.45,377.32 L652.45,375.18 L653.45,373.05 L654.45,370.92 L655.45,368.81 L656.45,366.71 L657.45,364.62 L658.45,362.55 L659.45,360.49 L660.45,358.43 L661.45,356.40 L662.45,354.37 L663.45,352.36 L664.45,350.37 L665.45,348.39 L666.45,346.43 L667.45,344.48 L668.45,342.55 L669.45,340.63 L670.45,338.74 L671.45,336.86 L672.45,335.00 L673.45,333.16 L674.45,331.35 L675.45,329.55 L676.45,327.77 L677.45,326.02 L678.45,324.29 L679.45,322.58 L680.45,320.90 L681.45,319.25 L682.45,317.62 L683.45,316.02 L684.45,314.44 L685.45,312.90 L686.45,311.38 L687.45,309.90 L688.45,308.45 L689.45,307.03 L690.45,305.64 L691.45,304.29 L692.45,302.98 L693.45,301.71 L694.45,300.47 L695.45,299.28 L696.45,298.12 L697.45,297.01 L698.45,295.95 L699.45,294.93 L700.45,293.95 L701.45,293.03 L702.45,292.16 L703.45,291.34 L704.45,290.57 L705.45,289.86 L706.45,289.21 L707.45,288.61 L708.45,288.08 L709.45,287.61 L710.45,287.21 L711.45,286.88 L712.45,286.61 L713.45,286.42 L714.45,286.30 L715.45,286.26 L716.45,286.30 L717.45,286.43 L718.45,286.64 L719.45,286.94 L720.45,287.33 L721.45,287.81 L722.45,288.40 L723.45,289.08 L724.45,289.88 L725.45,290.78 L726.45,291.80 L727.45,292.93 L728.45,294.19 L729.45,295.57 L730.45,297.09 L731.45,298.74 L732.45,300.53 L733.45,302.47 L734.45,304.56 L735.45,306.81 L736.45,309.22 L737.45,311.80 L738.45,314.55 L739.45,317.48 L740.45,320.60 L741.45,323.92 L742.45,327.43 L743.45,331.15 L744.45,335.09 L745.45,339.26 L746.45,343.65 L747.45,348.29 L748.45,353.17 L749.45,358.31 L750.45,363.72 L751.45,369.40 L752.45,375.37 L753.45,381.64 L754.45,388.21 L755.45,395.11 L756.45,402.33 L757.45,409.90 L758.45,417.82 L759.45,426.11 L760.45,434.78 L761.45,443.84 L762.45,453.31 L763.45,463.21 L764.45,473.54 L765.45,484.33 L766.45,495.58 L767.45,507.33 L768.45,519.58 L769.45,532.36" stroke="#556B2F" stroke-width="2.40"/>
<path d="M583.72,538.62 L584.72,536.08 L585.72,533.54 L586.72,531.01 L587.72,528.48 L588.72,525.95 L589.72,523.43 L590.72,520.91 L591.72,518.40 L592.72,515.89 L593.72,513.38 L594.72,510.88 L595.72,508.39 L596.72,505.90 L597.72,503.41 L598.72,500.93 L599.72,498.45 L600.72,495.98 L601.72,493.51 L602.72,491.05 L603.72,488.59 L604.72,486.14 L605.72,483.70 L606.72,481.26 L607.72,478.83 L608.72,476.40 L609.72,473.98 L610.72,471.56 L611.72,469.16 L612.72,466.76 L613.72,464.36 L614.72,461.97 L615.72,459.59 L616.72,457.22 L617.72,454.86 L618.72,452.50 L619.72,450.15 L620.72,447.81 L621.72,445.47 L622.72,443.15 L623.72,440.83 L624.72,438.52 L625.72,436.22 L626.72,433.93 L627.72,431.65 L628.72,429.38 L629.72,427.12 L630.72,424.87 L631.72,422.63 L632.72,420.40 L633.72,418.18 L634.72,415.97 L635.72,413.77 L636.72,411.59 L637.72,409.41 L638.72,407.25 L639.72,405.10 L640.72,402.96 L641.72,400.84 L642.72,398.73 L643.72,396.63 L644.72,394.54 L645.72,392.47 L646.72,390.42 L647.72,388.37 L648.72,386.35 L649.72,384.34 L650.72,382.34 L651.72,380.36 L652.72,378.40 L653.72,376.45 L654.72,374.53 L655.72,372.62 L656.72,370.72 L657.72,368.85 L658.72,366.99 L659.72,365.16 L660.72,363.34 L661.72,361.54 L662.72,359.77 L663.72,358.01 L664.72,356.28 L665.72,354.57 L666.72,352.88 L667.72,351.21 L668.72,349.57 L669.72,347.95 L670.72,346.36 L671.72,344.79 L672.72,343.25 L673.72,341.74 L674.72,340.25 L675.72,338.79 L676.72,337.35 L677.72,335.95 L678.72,334.58 L679.72,333.23 L680.72,331.92 L681.72,330.64 L682.72,329.39 L683.72,328.17 L684.72,326.99 L685.72,325.85 L686.72,324.73 L687.72,323.66 L688.72,322.62 L689.72,321.62 L690.72,320.66 L691.72,319.74 L692.72,318.86 L693.72,318.02 L694.72,317.22 L695.72,316.47 L696.72,315.76 L697.72,315.09 L698.72,314.48 L699.72,313.91 L700.72,313.38 L701.72,312.91 L702.72,312.49 L703.72,312.12 L704.72,311.81 L705.72,311.55 L706.72,311.34 L707.72,311.20 L708.72,311.11 L709.72,311.08 L710.72,311.11 L711.72,311.20 L712.72,311.36 L713.72,311.58 L714.72,311.88 L715.72,312.24 L716.72,312.68 L717.72,313.20 L718.72,313.79 L719.72,314.46 L720.72,315.22 L721.72,316.06 L722.72,316.99 L723.72,318.01 L724.72,319.13 L725.72,320.34 L726.72,321.65 L727.72,323.06 L728.72,324.58 L729.72,326.21 L730.72,327.96 L731.72,329.82 L732.72,331.80 L733.72,333.90 L734.72,336.13 L735.72,338.50 L736.72,341.00 L737.72,343.64 L738.72,346.42 L739.72,349.36 L740.72,352.44 L741.72,355.69 L742.72,359.10 L743.72,362.68 L744.72,366.43 L745.72,370.37 L746.72,374.48 L747.72,378.79 L748.72,383.30 L749.72,388.01 L750.72,392.93 L751.72,398.06 L752.72,403.42 L753.72,409.01 L754.72,414.83 L755.72,420.90 L756.72,427.22 L757.72,433.80 L758.72,440.65 L759.72,447.78 L760.72,455.19 L761.72,462.89 L762.72,470.90 L763.72,479.22 L764.72,487.87 L765.72,496.85 L766.72,506.17 L767.72,515.84 L768.72,525.88 L769.72,536.30" stroke="#556B2F" stroke-width="2.40"/>
<path d="M594.56,538.97 L595.56,536.37 L596.56,533.77 L597.56,531.18 L598.56,528.59 L599.56,526.01 L600.56,523.43 L601.56,520.85 L602.56,518.28 L603.56,515.72 L604.56,513.16 L605.56,510.60 L606.56,508.05 L607.56,505.51 L608.56,502.97 L609.56,500.43 L610.56,497.91 L611.56,495.38 L612.56,492.87 L613.56,490.36 L614.56,487.85 L615.56,485.35 L616.56,482.86 L617.56,480.38 L618.56,477.90 L619.56,475.43 L620.56,472.97 L621.56,470.51 L622.56,468.06 L623.56,465.62 L624.56,463.18 L625.56,460.76 L626.56,458.34 L627.56,455.93 L628.56,453.53 L629.56,451.14 L630.56,448.76 L631.56,446.38 L632.56,444.02 L633.56,441.67 L634.56,439.32 L635.56,436.99 L636.56,434.66 L637.56,432.35 L638.56,430.05 L639.56,427.76 L640.56,425.48 L641.56,423.21 L642.56,420.95 L643.56,418.71 L644.56,416.47 L645.56,414.25 L646.56,412.05 L647.56,409.85 L648.56,407.67 L649.56,405.51 L650.56,403.36 L651.56,401.22 L652.56,399.10 L653.56,396.99 L654.56,394.90 L655.56,392.83 L656.56,390.77 L657.56,388.73 L658.56,386.70 L659.56,384.70 L660.56,382.71 L661.56,380.74 L662.56,378.78 L663.56,376.85 L664.56,374.94 L665.56,373.05 L666.56,371.18 L667.56,369.33 L668.56,367.50 L669.56,365.69 L670.56,363.91 L671.56,362.15 L672.56,360.41 L673.56,358.70 L674.56,357.01 L675.56,355.35 L676.56,353.71 L677.56,352.10 L678.56,350.52 L679.56,348.96 L680.56,347.44 L681.56,345.94 L682.56,344.47 L683.56,343.04 L684.56,341.63 L685.56,340.26 L686.56,338.92 L687.56,337.61 L688.56,336.34 L689.56,335.10 L690.56,333.90 L691.56,332.74 L692.56,331.61 L693.56,330.53 L694.56,329.48 L695.56,328.47 L696.56,327.50 L697.56,326.58 L698.56,325.70 L699.56,324.86 L700.56,324.07 L701.56,323.33 L702.56,322.63 L703.56,321.98 L704.56,321.39 L705.56,320.84 L706.56,320.34 L707.56,319.90 L708.56,319.51 L709.56,319.18 L710.56,318.91 L711.56,318.69 L712.56,318.54 L713.56,318.44 L714.56,318.41 L715.56,318.44 L716.56,318.54 L717.56,318.71 L718.56,318.95 L719.56,319.27 L720.56,319.67 L721.56,320.14 L722.56,320.71 L723.56,321.36 L724.56,322.10 L725.56,322.94 L726.56,323.89 L727.56,324.93 L728.56,326.09 L729.56,327.36 L730.56,328.74 L731.56,330.25 L732.56,331.89 L733.56,333.66 L734.56,335.57 L735.56,337.63 L736.56,339.83 L737.56,342.20 L738.56,344.72 L739.56,347.42 L740.56,350.30 L741.56,353.36 L742.56,356.61 L743.56,360.06 L744.56,363.72 L745.56,367.60 L746.56,371.71 L747.56,376.05 L748.56,380.64 L749.56,385.48 L750.56,390.59 L751.56,395.98 L752.56,401.66 L753.56,407.64 L754.56,413.93 L755.56,420.55 L756.56,427.51 L757.56,434.82 L758.56,442.50 L759.56,450.57 L760.56,459.04 L761.56,467.93 L762.56,477.24 L763.56,487.02 L764.56,497.26 L765.56,507.99 L766.56,519.24 L767.56,531.02" stroke="#556B2F" stroke-width="2.40"/>
<path d="M614.54,538.08 L615.54,535.67 L616.54,533.27 L617.54,530.88 L618.54,528.49 L619.54,526.10 L620.54,523.72 L621.54,521.35 L622.54,518.99 L623.54,516.63 L624.54,514.28 L625.54,511.93 L626.54,509.59 L627.54,507.26 L628.54,504.94 L629.54,502.62 L630.54,500.31 L631.54,498.01 L632.54,495.72 L633.54,493.43 L634.54,491.16 L635.54,488.89 L636.54,486.63 L637.54,484.38 L638.54,482.14 L639.54,479.91 L640.54,477.69 L641.54,475.48 L642.54,473.28 L643.54,471.09 L644.54,468.91 L645.54,466.74 L646.54,464.58 L647.54,462.44 L648.54,460.30 L649.54,458.18 L650.54,456.07 L651.54,453.98 L652.54,451.89 L653.54,449.82 L654.54,447.77 L655.54,445.73 L656.54,443.70 L657.54,441.69 L658.54,439.69 L659.54,437.71 L660.54,435.74 L661.54,433.79 L662.54,431.86 L663.54,429.95 L664.54,428.05 L665.54,426.17 L666.54,424.31 L667.54,422.47 L668.54,420.64 L669.54,418.84 L670.54,417.06 L671.54,415.29 L672.54,413.55 L673.54,411.84 L674.54,410.14 L675.54,408.47 L676.54,406.82 L677.54,405.19 L678.54,403.59 L679.54,402.02 L680.54,400.47 L681.54,398.94 L682.54,397.45 L683.54,395.98 L684.54,394.54 L685.54,393.13 L686.54,391.75 L687.54,390.41 L688.54,389.09 L689.54,387.80 L690.54,386.55 L691.54,385.34 L692.54,384.15 L693.54,383.01 L694.54,381.90 L695.54,380.82 L696.54,379.79 L697.54,378.80 L698.54,377.84 L699.54,376.93 L700.54,376.06 L701.54,375.23 L702.54,374.45 L703.54,373.71 L704.54,373.02 L705.54,372.37 L706.54,371.78 L707.54,371.24 L708.54,370.75 L709.54,370.31 L710.54,369.92 L711.54,369.59 L712.54,369.32 L713.54,369.10 L714.54,368.95 L715.54,368.85 L716.54,368.82 L717.54,368.85 L718.54,368.95 L719.54,369.12 L720.54,369.36 L721.54,369.67 L722.54,370.06 L723.54,370.54 L724.54,371.09 L725.54,371.73 L726.54,372.46 L727.54,373.28 L728.54,374.20 L729.54,375.22 L730.54,376.34 L731.54,377.57 L732.54,378.91 L733.54,380.37 L734.54,381.94 L735.54,383.64 L736.54,385.48 L737.54,387.44 L738.54,389.54 L739.54,391.79 L740.54,394.19 L741.54,396.74 L742.54,399.45 L743.54,402.33 L744.54,405.39 L745.54,408.62 L746.54,412.05 L747.54,415.66 L748.54,419.48 L749.54,423.50 L750.54,427.74 L751.54,432.21 L752.54,436.91 L753.54,441.85 L754.54,447.04 L755.54,452.49 L756.54,458.21 L757.54,464.21 L758.54,470.50 L759.54,477.10 L760.54,484.01 L761.54,491.24 L762.54,498.80 L763.54,506.72 L764.54,515.00 L765.54,523.66 L766.54,532.71" stroke="#556B2F" stroke-width="2.40"/>
<path d="M617.80,539.30 L618.80,537.06 L619.80,534.83 L620.80,532.61 L621.80,530.39 L622.80,528.19 L623.80,525.98 L624.80,523.79 L625.80,521.60 L626.80,519.42 L627.80,517.25 L628.80,515.08 L629.80,512.93 L630.80,510.78 L631.80,508.64 L632.80,506.51 L633.80,504.39 L634.80,502.28 L635.80,500.17 L636.80,498.08 L637.80,496.00 L638.80,493.92 L639.80,491.86 L640.80,489.81 L641.80,487.77 L642.80,485.74 L643.80,483.73 L644.80,481.72 L645.80,479.73 L646.80,477.75 L647.80,475.79 L648.80,473.83 L649.80,471.90 L650.80,469.97 L651.80,468.06 L652.80,466.17 L653.80,464.29 L654.80,462.43 L655.80,460.58 L656.80,458.75 L657.80,456.94 L658.80,455.14 L659.80,453.37 L660.80,451.61 L661.80,449.87 L662.80,448.15 L663.80,446.45 L664.80,444.77 L665.80,443.12 L666.80,441.48 L667.80,439.87 L668.80,438.28 L669.80,436.72 L670.80,435.18 L671.80,433.66 L672.80,432.17 L673.80,430.71 L674.80,429.27 L675.80,427.87 L676.80,426.49 L677.80,425.14 L678.80,423.82 L679.80,422.53 L680.80,421.27 L681.80,420.05 L682.80,418.86 L683.80,417.71 L684.80,416.59 L685.80,415.51 L686.80,414.46 L687.80,413.46 L688.80,412.49 L689.80,411.57 L690.80,410.68 L691.80,409.84 L692.80,409.05 L693.80,408.30 L694.80,407.60 L695.80,406.94 L696.80,406.33 L697.80,405.78 L698.80,405.27 L699.80,404.82 L700.80,404.43 L701.80,404.09 L702.80,403.81 L703.80,403.59 L704.80,403.43 L705.80,403.33 L706.80,403.30 L707.80,403.33 L708.80,403.43 L709.80,403.60 L710.80,403.85 L711.80,404.16 L712.80,404.55 L713.80,405.01 L714.80,405.56 L715.80,406.18 L716.80,406.89 L717.80,407.68 L718.80,408.55 L719.80,409.52 L720.80,410.57 L721.80,411.71 L722.80,412.95 L723.80,414.29 L724.80,415.73 L725.80,417.26 L726.80,418.90 L727.80,420.65 L728.80,422.50 L729.80,424.47 L730.80,426.55 L731.80,428.74 L732.80,431.06 L733.80,433.50 L734.80,436.06 L735.80,438.75 L736.80,441.57 L737.80,444.53 L738.80,447.62 L739.80,450.85 L740.80,454.23 L741.80,457.76 L742.80,461.43 L743.80,465.26 L744.80,469.25 L745.80,473.40 L746.80,477.72 L747.80,482.21 L748.80,486.87 L749.80,491.70 L750.80,496.72 L751.80,501.93 L752.80,507.33 L753.80,512.92 L754.80,518.71 L755.80,524.71 L756.80,530.92 L757.80,537.34" stroke="#556B2F" stroke-width="2.40"/>
<path d="M624.64,539.64 L625.64,537.22 L626.64,534.81 L627.64,532.41 L628.64,530.02 L629.64,527.64 L630.64,525.27 L631.64,522.92 L632.64,520.57 L633.64,518.24 L634.64,515.92 L635.64,513.61 L636.64,511.31 L637.64,509.03 L638.64,506.76 L639.64,504.50 L640.64,502.26 L641.64,500.03 L642.64,497.81 L643.64,495.61 L644.64,493.42 L645.64,491.25 L646.64,489.09 L647.64,486.95 L648.64,484.83 L649.64,482.72 L650.64,480.63 L651.64,478.55 L652.64,476.50 L653.64,474.46 L654.64,472.44 L655.64,470.43 L656.64,468.45 L657.64,466.49 L658.64,464.54 L659.64,462.62 L660.64,460.72 L661.64,458.83 L662.64,456.97 L663.64,455.14 L664.64,453.32 L665.64,451.53 L666.64,449.76 L667.64,448.01 L668.64,446.29 L669.64,444.60 L670.64,442.93 L671.64,441.29 L672.64,439.67 L673.64,438.08 L674.64,436.52 L675.64,434.99 L676.64,433.48 L677.64,432.01 L678.64,430.57 L679.64,429.16 L680.64,427.78 L681.64,426.43 L682.64,425.11 L683.64,423.83 L684.64,422.59 L685.64,421.38 L686.64,420.20 L687.64,419.06 L688.64,417.96 L689.64,416.90 L690.64,415.88 L691.64,414.90 L692.64,413.96 L693.64,413.06 L694.64,412.20 L695.64,411.39 L696.64,410.62 L697.64,409.90 L698.64,409.22 L699.64,408.60 L700.64,408.02 L701.64,407.49 L702.64,407.01 L703.64,406.58 L704.64,406.21 L705.64,405.89 L706.64,405.63 L707.64,405.42 L708.64,405.27 L709.64,405.18 L710.64,405.15 L711.64,405.18 L712.64,405.27 L713.64,405.43 L714.64,405.66 L715.64,405.96 L716.64,406.33 L717.64,406.78 L718.64,407.30 L719.64,407.90 L720.64,408.58 L721.64,409.35 L722.64,410.21 L723.64,411.16 L724.64,412.20 L725.64,413.34 L726.64,414.58 L727.64,415.92 L728.64,417.37 L729.64,418.92 L730.64,420.60 L731.64,422.38 L732.64,424.29 L733.64,426.33 L734.64,428.49 L735.64,430.79 L736.64,433.23 L737.64,435.81 L738.64,438.53 L739.64,441.41 L740.64,444.44 L741.64,447.64 L742.64,451.00 L743.64,454.54 L744.64,458.25 L745.64,462.15 L746.64,466.24 L747.64,470.52 L748.64,475.01 L749.64,479.71 L750.64,484.63 L751.64,489.76 L752.64,495.13 L753.64,500.74 L754.64,506.60 L755.64,512.70 L756.64,519.08 L757.64,525.72 L758.64,532.64 L759.64,539.85" stroke="#556B2F" stroke-width="2.40"/>
<path d="M628.14,538.59 L629.14,536.29 L630.14,534.00 L631.14,531.71 L632.14,529.43 L633.14,527.16 L634.14,524.89 L635.14,522.64 L636.14,520.39 L637.14,518.14 L638.14,515.91 L639.14,513.68 L640.14,511.47 L641.14,509.26 L642.14,507.06 L643.14,504.87 L644.14,502.69 L645.14,500.52 L646.14,498.36 L647.14,496.22 L648.14,494.08 L649.14,491.95 L650.14,489.84 L651.14,487.73 L652.14,485.64 L653.14,483.56 L654.14,481.50 L655.14,479.44 L656.14,477.40 L657.14,475.38 L658.14,473.37 L659.14,471.37 L660.14,469.39 L661.14,467.42 L662.14,465.47 L663.14,463.54 L664.14,461.63 L665.14,459.73 L666.14,457.85 L667.14,455.98 L668.14,454.14 L669.14,452.32 L670.14,450.51 L671.14,448.73 L672.14,446.97 L673.14,445.23 L674.14,443.51 L675.14,441.82 L676.14,440.15 L677.14,438.50 L678.14,436.88 L679.14,435.28 L680.14,433.71 L681.14,432.17 L682.14,430.66 L683.14,429.18 L684.14,427.72 L685.14,426.30 L686.14,424.90 L687.14,423.54 L688.14,422.22 L689.14,420.92 L690.14,419.67 L691.14,418.45 L692.14,417.26 L693.14,416.12 L694.14,415.01 L695.14,413.94 L696.14,412.92 L697.14,411.94 L698.14,411.00 L699.14,410.11 L700.14,409.26 L701.14,408.47 L702.14,407.72 L703.14,407.02 L704.14,406.37 L705.14,405.78 L706.14,405.25 L707.14,404.77 L708.14,404.34 L709.14,403.98 L710.14,403.68 L711.14,403.45 L712.14,403.27 L713.14,403.17 L714.14,403.13 L715.14,403.17 L716.14,403.28 L717.14,403.46 L718.14,403.73 L719.14,404.07 L720.14,404.50 L721.14,405.01 L722.14,405.61 L723.14,406.30 L724.14,407.09 L725.14,407.97 L726.14,408.96 L727.14,410.05 L728.14,411.24 L729.14,412.55 L730.14,413.97 L731.14,415.51 L732.14,417.17 L733.14,418.95 L734.14,420.86 L735.14,422.91 L736.14,425.10 L737.14,427.43 L738.14,429.90 L739.14,432.53 L740.14,435.31 L741.14,438.26 L742.14,441.37 L743.14,444.65 L744.14,448.11 L745.14,451.76 L746.14,455.59 L747.14,459.62 L748.14,463.85 L749.14,468.29 L750.14,472.94 L751.14,477.82 L752.14,482.92 L753.14,488.26 L754.14,493.84 L755.14,499.68 L756.14,505.77 L757.14,512.14 L758.14,518.78 L759.14,525.70 L760.14,532.92" stroke="#556B2F" stroke-width="2.40"/>
<path d="M631.79,538.93 L632.79,536.52 L633.79,534.12 L634.79,531.74 L635.79,529.37 L636.79,527.02 L637.79,524.69 L638.79,522.38 L639.79,520.08 L640.79,517.80 L641.79,515.54 L642.79,513.29 L643.79,511.07 L644.79,508.86 L645.79,506.68 L646.79,504.51 L647.79,502.36 L648.79,500.23 L649.79,498.13 L650.79,496.04 L651.79,493.98 L652.79,491.93 L653.79,489.91 L654.79,487.92 L655.79,485.94 L656.79,483.99 L657.79,482.07 L658.79,480.16 L659.79,478.29 L660.79,476.43 L661.79,474.61 L662.79,472.81 L663.79,471.03 L664.79,469.28 L665.79,467.56 L666.79,465.87 L667.79,464.21 L668.79,462.58 L669.79,460.97 L670.79,459.40 L671.79,457.86 L672.79,456.35 L673.79,454.87 L674.79,453.42 L675.79,452.01 L676.79,450.62 L677.79,449.28 L678.79,447.97 L679.79,446.69 L680.79,445.45 L681.79,444.25 L682.79,443.08 L683.79,441.96 L684.79,440.87 L685.79,439.82 L686.79,438.81 L687.79,437.84 L688.79,436.92 L689.79,436.04 L690.79,435.20 L691.79,434.40 L692.79,433.65 L693.79,432.95 L694.79,432.29 L695.79,431.68 L696.79,431.11 L697.79,430.60 L698.79,430.14 L699.79,429.72 L700.79,429.36 L701.79,429.05 L702.79,428.80 L703.79,428.60 L704.79,428.46 L705.79,428.37 L706.79,428.34 L707.79,428.37 L708.79,428.46 L709.79,428.61 L710.79,428.83 L711.79,429.11 L712.79,429.45 L713.79,429.87 L714.79,430.35 L715.79,430.90 L716.79,431.53 L717.79,432.23 L718.79,433.01 L719.79,433.87 L720.79,434.80 L721.79,435.82 L722.79,436.92 L723.79,438.11 L724.79,439.39 L725.79,440.76 L726.79,442.22 L727.79,443.77 L728.79,445.42 L729.79,447.17 L730.79,449.03 L731.79,450.98 L732.79,453.05 L733.79,455.22 L734.79,457.50 L735.79,459.90 L736.79,462.42 L737.79,465.05 L738.79,467.81 L739.79,470.70 L740.79,473.71 L741.79,476.86 L742.79,480.14 L743.79,483.56 L744.79,487.12 L745.79,490.83 L746.79,494.68 L747.79,498.69 L748.79,502.85 L749.79,507.18 L750.79,511.67 L751.79,516.32 L752.79,521.15 L753.79,526.15 L754.79,531.33 L755.79,536.70" stroke="#556B2F" stroke-width="2.40"/>
<path d="M639.28,539.86 L640.28,537.82 L641.28,535.79 L642.28,533.76 L643.28,531.74 L644.28,529.73 L645.28,527.72 L646.28,525.71 L647.28,523.72 L648.28,521.73 L649.28,519.74 L650.28,517.77 L651.28,515.80 L652.28,513.84 L653.28,511.89 L654.28,509.95 L655.28,508.01 L656.28,506.09 L657.28,504.17 L658.28,502.27 L659.28,500.37 L660.28,498.49 L661.28,496.62 L662.28,494.76 L663.28,492.91 L664.28,491.07 L665.28,489.24 L666.28,487.43 L667.28,485.63 L668.28,483.85 L669.28,482.08 L670.28,480.32 L671.28,478.58 L672.28,476.86 L673.28,475.15 L674.28,473.47 L675.28,471.80 L676.28,470.14 L677.28,468.51 L678.28,466.90 L679.28,465.31 L680.28,463.74 L681.28,462.19 L682.28,460.67 L683.28,459.17 L684.28,457.69 L685.28,456.24 L686.28,454.82 L687.28,453.43 L688.28,452.06 L689.28,450.72 L690.28,449.42 L691.28,448.14 L692.28,446.90 L693.28,445.70 L694.28,444.53 L695.28,443.39 L696.28,442.30 L697.28,441.24 L698.28,440.23 L699.28,439.26 L700.28,438.33 L701.28,437.45 L702.28,436.61 L703.28,435.83 L704.28,435.09 L705.28,434.41 L706.28,433.78 L707.28,433.21 L708.28,432.70 L709.28,432.24 L710.28,431.86 L711.28,431.53 L712.28,431.27 L713.28,431.09 L714.28,430.98 L715.28,430.94 L716.28,430.98 L717.28,431.10 L718.28,431.30 L719.28,431.58 L720.28,431.96 L721.28,432.42 L722.28,432.98 L723.28,433.64 L724.28,434.39 L725.28,435.24 L726.28,436.20 L727.28,437.26 L728.28,438.44 L729.28,439.73 L730.28,441.14 L731.28,442.66 L732.28,444.32 L733.28,446.10 L734.28,448.01 L735.28,450.05 L736.28,452.24 L737.28,454.57 L738.28,457.05 L739.28,459.68 L740.28,462.47 L741.28,465.42 L742.28,468.54 L743.28,471.83 L744.28,475.29 L745.28,478.94 L746.28,482.78 L747.28,486.80 L748.28,491.03 L749.28,495.46 L750.28,500.10 L751.28,504.95 L752.28,510.03 L753.28,515.34 L754.28,520.88 L755.28,526.67 L756.28,532.71 L757.28,539.01" stroke="#556B2F" stroke-width="2.40"/>
<path d="M643.93,539.51 L644.93,537.56 L645.93,535.62 L646.93,533.68 L647.93,531.74 L648.93,529.82 L649.93,527.89 L650.93,525.98 L651.93,524.06 L652.93,522.16 L653.93,520.26 L654.93,518.37 L655.93,516.49 L656.93,514.61 L657.93,512.74 L658.93,510.88 L659.93,509.03 L660.93,507.19 L661.93,505.36 L662.93,503.54 L663.93,501.73 L664.93,499.92 L665.93,498.13 L666.93,496.36 L667.93,494.59 L668.93,492.84 L669.93,491.09 L670.93,489.37 L671.93,487.65 L672.93,485.96 L673.93,484.28 L674.93,482.61 L675.93,480.96 L676.93,479.33 L677.93,477.72 L678.93,476.12 L679.93,474.55 L680.93,473.00 L681.93,471.46 L682.93,469.96 L683.93,468.47 L684.93,467.01 L685.93,465.58 L686.93,464.17 L687.93,462.79 L688.93,461.44 L689.93,460.12 L690.93,458.83 L691.93,457.57 L692.93,456.35 L693.93,455.17 L694.93,454.02 L695.93,452.91 L696.93,451.84 L697.93,450.81 L698.93,449.83 L699.93,448.90 L700.93,448.01 L701.93,447.17 L702.93,446.38 L703.93,445.65 L704.93,444.98 L705.93,444.36 L706.93,443.81 L707.93,443.32 L708.93,442.90 L709.93,442.54 L710.93,442.26 L711.93,442.06 L712.93,441.93 L713.93,441.89 L714.93,441.94 L715.93,442.07 L716.93,442.29 L717.93,442.60 L718.93,443.01 L719.93,443.51 L720.93,444.11 L721.93,444.81 L722.93,445.61 L723.93,446.52 L724.93,447.53 L725.93,448.66 L726.93,449.89 L727.93,451.24 L728.93,452.70 L729.93,454.29 L730.93,455.99 L731.93,457.82 L732.93,459.78 L733.93,461.86 L734.93,464.08 L735.93,466.43 L736.93,468.93 L737.93,471.56 L738.93,474.34 L739.93,477.26 L740.93,480.34 L741.93,483.57 L742.93,486.95 L743.93,490.50 L744.93,494.21 L745.93,498.09 L746.93,502.14 L747.93,506.37 L748.93,510.78 L749.93,515.37 L750.93,520.14 L751.93,525.11 L752.93,530.27 L753.93,535.63" stroke="#556B2F" stroke-width="2.40"/>
<path d="M647.36,538.98 L648.36,537.09 L649.36,535.20 L650.36,533.31 L651.36,531.43 L652.36,529.56 L653.36,527.70 L654.36,525.85 L655.36,524.00 L656.36,522.17 L657.36,520.34 L658.36,518.52 L659.36,516.71 L660.36,514.91 L661.36,513.12 L662.36,511.35 L663.36,509.58 L664.36,507.83 L665.36,506.09 L666.36,504.36 L667.36,502.64 L668.36,500.94 L669.36,499.25 L670.36,497.58 L671.36,495.92 L672.36,494.28 L673.36,492.66 L674.36,491.05 L675.36,489.47 L676.36,487.90 L677.36,486.35 L678.36,484.82 L679.36,483.31 L680.36,481.83 L681.36,480.37 L682.36,478.93 L683.36,477.51 L684.36,476.13 L685.36,474.77 L686.36,473.43 L687.36,472.13 L688.36,470.86 L689.36,469.62 L690.36,468.41 L691.36,467.24 L692.36,466.10 L693.36,465.00 L694.36,463.93 L695.36,462.91 L696.36,461.93 L697.36,460.99 L698.36,460.09 L699.36,459.25 L700.36,458.45 L701.36,457.70 L702.36,457.00 L703.36,456.36 L704.36,455.78 L705.36,455.25 L706.36,454.79 L707.36,454.39 L708.36,454.06 L709.36,453.79 L710.36,453.60 L711.36,453.48 L712.36,453.44 L713.36,453.48 L714.36,453.61 L715.36,453.81 L716.36,454.11 L717.36,454.48 L718.36,454.95 L719.36,455.51 L720.36,456.16 L721.36,456.90 L722.36,457.74 L723.36,458.67 L724.36,459.71 L725.36,460.84 L726.36,462.08 L727.36,463.42 L728.36,464.86 L729.36,466.41 L730.36,468.08 L731.36,469.85 L732.36,471.74 L733.36,473.75 L734.36,475.87 L735.36,478.11 L736.36,480.48 L737.36,482.97 L738.36,485.59 L739.36,488.34 L740.36,491.21 L741.36,494.23 L742.36,497.38 L743.36,500.66 L744.36,504.09 L745.36,507.67 L746.36,511.39 L747.36,515.26 L748.36,519.28 L749.36,523.45 L750.36,527.79 L751.36,532.28 L752.36,536.94" stroke="#556B2F" stroke-width="2.40"/>
<path d="M686.10,538.33 L687.10,536.38 L688.10,534.49 L689.10,532.66 L690.10,530.88 L691.10,529.16 L692.10,527.50 L693.10,525.90 L694.10,524.36 L695.10,522.88 L696.10,521.47 L697.10,520.11 L698.10,518.82 L699.10,517.60 L700.10,516.44 L701.10,515.35 L702.10,514.33 L703.10,513.37 L704.10,512.49 L705.10,511.68 L706.10,510.94 L707.10,510.27 L708.10,509.68 L709.10,509.16 L710.10,508.72 L711.10,508.36 L712.10,508.07 L713.10,507.87 L714.10,507.74 L715.10,507.70 L716.10,507.74 L717.10,507.87 L718.10,508.08 L719.10,508.38 L720.10,508.77 L721.10,509.25 L722.10,509.82 L723.10,510.48 L724.10,511.24 L725.10,512.09 L726.10,513.03 L727.10,514.08 L728.10,515.23 L729.10,516.47 L730.10,517.82 L731.10,519.27 L732.10,520.83 L733.10,522.50 L734.10,524.27 L735.10,526.16 L736.10,528.15 L737.10,530.26 L738.10,532.49 L739.10,534.83 L740.10,537.29 L741.10,539.87" stroke="#556B2F" stroke-width="2.40"/>
<path d="M545.41,513.48 L545.95,512.09 L546.49,510.70 L547.03,509.31 L547.57,507.92 L548.11,506.53 L548.65,505.14 L549.20,503.75 L549.74,502.36 L550.29,500.97 L550.84,499.58 L551.39,498.18 L551.94,496.79 L552.49,495.40 L553.04,494.01 L553.59,492.62 L554.14,491.23 L554.70,489.84 L555.25,488.45 L555.81,487.06 L556.37,485.67 L556.92,484.27 L557.48,482.88 L558.04,481.49 L558.60,480.10 L559.17,478.71 L559.73,477.32 L560.29,475.92 L560.85,474.53 L561.42,473.14 L561.98,471.75 L562.55,470.36 L563.12,468.97 L563.69,467.57 L564.26,466.18 L564.82,464.79 L565.39,463.40 L565.97,462.01 L566.54,460.62 L567.11,459.22 L567.68,457.83 L568.26,456.44 L568.83,455.05 L569.40,453.66 L569.98,452.27 L570.56,450.87 L571.13,449.48 L571.71,448.09 L572.29,446.70 L572.87,445.31 L573.45,443.92 L574.02,442.53 L574.60,441.13 L575.19,439.74 L575.77,438.35 L576.35,436.96 L576.93,435.57 L577.51,434.18 L578.10,432.79 L578.68,431.40 L579.26,430.01 L579.85,428.62 L580.43,427.23 L581.02,425.84 L581.60,424.45 L582.19,423.06 L582.77,421.67 L583.36,420.28 L583.95,418.89 L584.53,417.50 L585.12,416.11 L585.71,414.72 L586.30,413.33 L586.89,411.94 L587.48,410.55 L588.06,409.17 L588.65,407.78 L589.24,406.39 L589.83,405.00 L590.42,403.61 L591.01,402.23 L591.60,400.84 L592.19,399.45 L592.78,398.07 L593.37,396.68 L593.96,395.29 L594.56,393.91 L595.15,392.52 L595.74,391.13 L596.33,389.75 L596.92,388.36 L597.51,386.98 L598.10,385.59 L598.69,384.21 L599.29,382.82 L599.88,381.44 L600.47,380.05 L601.06,378.67 L601.65,377.29 L602.24,375.90 L602.83,374.52 L603.42,373.14 L604.02,371.75 L604.61,370.37 L605.20,368.99 L605.79,367.61 L606.38,366.23 L606.97,364.85 L607.56,363.46 L608.15,362.08 L608.74,360.70 L609.33,359.32 L609.92,357.94 L610.51,356.57 L611.10,355.19 L611.69,353.81 L612.28,352.43 L612.87,351.05 L613.46,349.67 L614.05,348.30 L614.64,346.92 L615.23,345.54 L615.82,344.17 L616.41,342.79 L617.00,341.42 L617.59,340.04 L618.18,338.67 L618.78,337.30 L619.37,335.92 L619.96,334.55 L620.56,333.18 L621.16,331.81 L621.76,330.44 L622.35,329.07 L622.95,327.70 L623.56,326.33 L624.16,324.96 L624.76,323.60 L625.37,322.23 L625.98,320.87 L626.59,319.50 L627.20,318.14 L627.81,316.77 L628.43,315.41 L629.04,314.05 L629.66,312.69 L630.28,311.33 L630.90,309.97 L631.53,308.61 L632.16,307.26 L632.79,305.90 L633.42,304.55 L634.05,303.19 L634.69,301.84 L635.33,300.49 L635.98,299.14 L636.62,297.79 L637.27,296.44 L637.92,295.09 L638.58,293.74 L639.23,292.40 L639.89,291.05 L640.56,289.71 L641.23,288.37 L641.90,287.02 L642.57,285.68 L643.25,284.35 L643.93,283.01 L644.62,281.67 L645.30,280.34 L646.00,279.00 L646.69,277.67 L647.39,276.34 L648.10,275.01 L648.81,273.68 L649.52,272.35 L650.24,271.03 L650.96,269.70 L651.68,268.38 L652.41,267.06 L653.15,265.74 L653.89,264.42 L654.63,263.10 L655.38,261.79 L656.14,260.47 L656.89,259.16 L657.66,257.85 L658.43,256.54 L659.20,255.23 L659.98,253.93 L660.76,252.62 L661.55,251.32 L662.35,250.02 L663.15,248.72 L663.95,247.42 L664.76,246.12 L665.58,244.83 L666.41,243.54 L667.23,242.25 L668.07,240.96 L668.91,239.67 L669.76,238.38 L670.61,237.10 L671.47,235.82 L672.33,234.54 L673.20,233.26 L674.08,231.98 L674.97,230.71 L675.86,229.43 L676.76,228.16 L677.66,226.90 L678.58,225.65 L679.51,224.41 L680.45,223.20 L681.41,222.00 L682.39,220.83 L683.38,219.70 L684.39,218.60 L685.43,217.54 L686.49,216.52 L687.57,215.55 L688.69,214.63 L689.83,213.77 L691.00,212.97 L692.20,212.23 L693.44,211.56 L694.71,210.96 L696.02,210.44 L697.36,210.00 L698.73,209.64 L700.12,209.36 L701.53,209.18 L702.94,209.08 L704.34,209.09 L705.74,209.19 L707.13,209.39 L708.49,209.69 L709.82,210.10 L711.11,210.62 L712.38,211.24 L713.60,211.96 L714.79,212.76 L715.95,213.65 L717.08,214.61 L718.17,215.64 L719.23,216.72 L720.25,217.87 L721.24,219.05 L722.20,220.28 L723.13,221.55 L724.02,222.84 L724.89,224.15 L725.72,225.47 L726.52,226.80 L727.29,228.14 L728.03,229.49 L728.75,230.85 L729.44,232.22 L730.10,233.59 L730.74,234.97 L731.36,236.36 L731.95,237.76 L732.52,239.16 L733.08,240.57 L733.61,241.98 L734.12,243.40 L734.62,244.83 L735.10,246.26 L735.56,247.69 L736.01,249.13 L736.45,250.57 L736.88,252.02 L737.29,253.46 L737.69,254.92 L738.09,256.37 L738.47,257.83 L738.85,259.29 L739.23,260.75 L739.59,262.21 L739.96,263.67 L740.32,265.13 L740.68,266.59 L741.04,268.06 L741.39,269.52 L741.74,270.99 L742.09,272.45 L742.44,273.92 L742.79,275.38 L743.13,276.85 L743.47,278.32 L743.81,279.78 L744.14,281.25 L744.48,282.72 L744.81,284.18 L745.14,285.65 L745.47,287.12 L745.79,288.59 L746.12,290.06 L746.44,291.53 L746.76,293.00 L747.08,294.47 L747.39,295.94 L747.70,297.41 L748.01,298.88 L748.32,300.36 L748.63,301.83 L748.93,303.30 L749.24,304.77 L749.54,306.25 L749.83,307.72 L750.13,309.19 L750.42,310.67 L750.72,312.14 L751.01,313.62 L751.29,315.09 L751.58,316.57 L751.86,318.04 L752.14,319.52 L752.42,321.00 L752.70,322.47 L752.98,323.95 L753.25,325.43 L753.52,326.91 L753.79,328.38 L754.06,329.86 L754.33,331.34 L754.59,332.82 L754.85,334.30 L755.11,335.78 L755.37,337.26 L755.63,338.74 L755.88,340.22 L756.13,341.70 L756.38,343.18 L756.63,344.66 L756.88,346.14 L757.12,347.63 L757.37,349.11 L757.61,350.59 L757.85,352.07 L758.08,353.56 L758.32,355.04 L758.55,356.52 L758.78,358.01 L759.01,359.49 L759.24,360.98 L759.47,362.46 L759.69,363.95 L759.92,365.43 L760.14,366.92 L760.36,368.40 L760.57,369.89 L760.79,371.38 L761.00,372.86 L761.22,374.35 L761.43,375.84 L761.63,377.33 L761.84,378.81 L762.05,380.30 L762.25,381.79 L762.45,383.28 L762.65,384.77 L762.85,386.26 L763.05,387.74 L763.24,389.23 L763.44,390.72 L763.63,392.21 L763.82,393.70 L764.01,395.19 L764.19,396.68 L764.38,398.17 L764.56,399.67 L764.74,401.16 L764.92,402.65 L765.10,404.14 L765.28,405.63 L765.45,407.12 L765.63,408.62 L765.80,410.11 L765.97,411.60 L766.14,413.09 L766.31,414.59 L766.47,416.08 L766.64,417.57 L766.80,419.07 L766.96,420.56 L767.12,422.06 L767.28,423.55 L767.44,425.05 L767.59,426.54 L767.75,428.04 L767.90,429.53 L768.05,431.03 L768.20,432.52 L768.35,434.02 L768.49,435.51 L768.64,437.01 L768.78,438.50 L768.92,440.00 L769.06,441.50 L769.20,442.99 L769.34,444.49 L769.48,445.99 L769.61,447.49 L769.75,448.98 L769.88,450.48 L770.01,451.98 L770.14,453.48 L770.27,454.97 L770.39,456.47 L770.52,457.97 L770.64,459.47 L770.76,460.97 L770.89,462.47 L771.01,463.96 L771.13,465.46 L771.24,466.96 L771.36,468.46 L771.47,469.96 L771.59,471.46 L771.70,472.96 L771.81,474.46 L771.92,475.96 L772.03,477.46 L772.14,478.96 L772.24,480.46 L772.35,481.96 L772.45,483.46 L772.55,484.96 L772.65,486.46 L772.75,487.97 L772.85,489.47 L772.95,490.97 L773.05,492.47 L773.14,493.97 L773.24,495.47 L773.33,496.97 L773.42,498.47 L773.51,499.98 L773.60,501.48 L773.69,502.98 L773.77,504.48 L773.86,505.98 L773.95,507.49 L774.03,508.99 L774.11,510.49 L774.19,511.99 L774.27,513.50 L774.35,515.00 L774.43,516.50 L774.51,518.01 L774.58,519.51 L774.66,521.01 L774.73,522.51 L774.81,524.02 L774.88,525.52 L774.95,527.02" stroke="#FF00FF" stroke-width="2.40"/>
<path d="M201.68,510.99 L201.86,509.50 L202.03,508.01 L202.21,506.52 L202.38,505.02 L202.54,503.53 L202.71,502.04 L202.87,500.54 L203.04,499.05 L203.20,497.55 L203.35,496.06 L203.51,494.57 L203.66,493.07 L203.81,491.58 L203.96,490.08 L204.11,488.59 L204.26,487.09 L204.40,485.59 L204.55,484.10 L204.69,482.60 L204.83,481.11 L204.97,479.61 L205.11,478.11 L205.24,476.62 L205.38,475.12 L205.51,473.62 L205.64,472.13 L205.77,470.63 L205.90,469.13 L206.03,467.63 L206.16,466.14 L206.28,464.64 L206.41,463.14 L206.53,461.64 L206.65,460.14 L206.78,458.65 L206.90,457.15 L207.02,455.65 L207.14,454.15 L207.26,452.65 L207.38,451.15 L207.49,449.66 L207.61,448.16 L207.73,446.66 L207.85,445.16 L207.96,443.66 L208.08,442.16 L208.19,440.66 L208.31,439.16 L208.42,437.67 L208.54,436.17 L208.65,434.67 L208.76,433.17 L208.88,431.67 L208.99,430.17 L209.11,428.67 L209.22,427.17 L209.34,425.68 L209.45,424.18 L209.56,422.68 L209.68,421.18 L209.79,419.68 L209.91,418.18 L210.03,416.68 L210.14,415.19 L210.26,413.69 L210.38,412.19 L210.49,410.69 L210.61,409.19 L210.73,407.70 L210.85,406.20 L210.97,404.70 L211.09,403.20 L211.21,401.70 L211.34,400.21 L211.46,398.71 L211.59,397.21 L211.71,395.72 L211.84,394.22 L211.97,392.72 L212.09,391.23 L212.23,389.73 L212.36,388.23 L212.49,386.74 L212.62,385.24 L212.76,383.75 L212.89,382.25 L213.03,380.75 L213.17,379.26 L213.31,377.76 L213.46,376.27 L213.60,374.78 L213.75,373.28 L213.89,371.79 L214.04,370.29 L214.19,368.80 L214.35,367.31 L214.50,365.81 L214.66,364.32 L214.82,362.83 L214.98,361.33 L215.14,359.84 L215.31,358.35 L215.47,356.86 L215.64,355.37 L215.82,353.88 L215.99,352.39 L216.17,350.90 L216.34,349.41 L216.52,347.92 L216.71,346.43 L216.89,344.94 L217.08,343.45 L217.27,341.96 L217.47,340.47 L217.66,338.98 L217.86,337.50 L218.07,336.01 L218.27,334.52 L218.48,333.04 L218.69,331.55 L218.90,330.07 L219.12,328.58 L219.34,327.09 L219.56,325.61 L219.79,324.13 L220.02,322.64 L220.25,321.16 L220.48,319.68 L220.72,318.19 L220.96,316.71 L221.21,315.23 L221.46,313.75 L221.71,312.27 L221.97,310.79 L222.23,309.31 L222.49,307.83 L222.76,306.35 L223.03,304.87 L223.30,303.39 L223.58,301.92 L223.86,300.44 L224.15,298.96 L224.44,297.49 L224.73,296.01 L225.03,294.54 L225.33,293.06 L225.64,291.59 L225.95,290.11 L226.26,288.64 L226.58,287.17 L226.90,285.70 L227.23,284.22 L227.56,282.75 L227.90,281.29 L228.24,279.82 L228.59,278.35 L228.94,276.88 L229.30,275.42 L229.66,273.96 L230.03,272.50 L230.41,271.04 L230.79,269.58 L231.18,268.12 L231.57,266.67 L231.97,265.22 L232.38,263.77 L232.79,262.32 L233.21,260.88 L233.64,259.44 L234.08,258.00 L234.52,256.56 L234.97,255.13 L235.43,253.70 L235.90,252.27 L236.37,250.85 L236.85,249.43 L237.34,248.01 L237.84,246.60 L238.35,245.19 L238.87,243.79 L239.39,242.39 L239.93,240.99 L240.47,239.59 L241.03,238.21 L241.59,236.82 L242.16,235.44 L242.75,234.06 L243.34,232.69 L243.94,231.33 L244.56,229.97 L245.18,228.61 L245.81,227.26 L246.46,225.91 L247.12,224.57 L247.78,223.24 L248.46,221.91 L249.15,220.58 L249.85,219.27 L250.57,217.95 L251.29,216.65 L252.03,215.35 L252.78,214.05 L253.54,212.77 L254.31,211.49 L255.10,210.21 L255.90,208.94 L256.71,207.68 L257.54,206.43 L258.38,205.19 L259.23,203.95 L260.11,202.73 L260.99,201.51 L261.90,200.31 L262.82,199.12 L263.76,197.95 L264.71,196.78 L265.69,195.64 L266.69,194.51 L267.70,193.39 L268.74,192.29 L269.80,191.21 L270.88,190.15 L271.98,189.10 L273.10,188.08 L274.25,187.08 L275.43,186.10 L276.62,185.14 L277.85,184.20 L279.10,183.29 L280.37,182.40 L281.67,181.54 L283.00,180.72 L284.34,179.93 L285.70,179.18 L287.08,178.47 L288.47,177.82 L289.88,177.22 L291.29,176.68 L292.71,176.21 L294.14,175.80 L295.57,175.46 L297.00,175.21 L298.42,175.03 L299.85,174.94 L301.26,174.94 L302.67,175.03 L304.07,175.22 L305.45,175.49 L306.83,175.85 L308.19,176.29 L309.53,176.80 L310.86,177.38 L312.17,178.04 L313.47,178.76 L314.74,179.53 L315.99,180.37 L317.22,181.26 L318.42,182.19 L319.60,183.17 L320.76,184.20 L321.88,185.26 L322.98,186.35 L324.05,187.48 L325.08,188.62 L326.08,189.80 L327.05,190.98 L327.99,192.19 L328.90,193.41 L329.77,194.65 L330.62,195.91 L331.44,197.18 L332.23,198.46 L333.00,199.76 L333.75,201.07 L334.47,202.39 L335.17,203.72 L335.85,205.06 L336.51,206.41 L337.15,207.77 L337.77,209.14 L338.39,210.52 L338.98,211.90 L339.56,213.29 L340.14,214.69 L340.70,216.09 L341.25,217.49 L341.79,218.90 L342.33,220.31 L342.86,221.72 L343.38,223.13 L343.91,224.55 L344.43,225.96 L344.94,227.37 L345.46,228.79 L345.97,230.20 L346.48,231.61 L346.99,233.03 L347.50,234.44 L348.00,235.86 L348.51,237.27 L349.01,238.68 L349.51,240.10 L350.01,241.51 L350.51,242.93 L351.00,244.34 L351.49,245.75 L351.99,247.17 L352.48,248.58 L352.97,250.00 L353.46,251.41 L353.95,252.83 L354.44,254.24 L354.92,255.66 L355.41,257.07 L355.89,258.49 L356.38,259.90 L356.86,261.31 L357.35,262.73 L357.83,264.14 L358.32,265.56 L358.80,266.97 L359.28,268.39 L359.77,269.80 L360.25,271.22 L360.73,272.63 L361.22,274.05 L361.70,275.46 L362.18,276.88 L362.67,278.29 L363.15,279.71 L363.64,281.13 L364.13,282.54 L364.61,283.96 L365.10,285.37 L365.59,286.79 L366.08,288.20 L366.57,289.62 L367.07,291.03 L367.56,292.45 L368.05,293.86 L368.55,295.28 L369.05,296.69 L369.55,298.11 L370.05,299.53 L370.55,300.94 L371.05,302.36 L371.56,303.77 L372.07,305.19 L372.58,306.60 L373.09,308.02 L373.61,309.43 L374.12,310.85 L374.64,312.27 L375.16,313.68 L375.69,315.10 L376.21,316.51 L376.74,317.93 L377.27,319.34 L377.79,320.76 L378.32,322.18 L378.86,323.59 L379.39,325.01 L379.92,326.43 L380.45,327.84 L380.98,329.26 L381.51,330.68 L382.04,332.10 L382.56,333.51 L383.09,334.93 L383.61,336.35 L384.13,337.77 L384.65,339.19 L385.17,340.61 L385.69,342.03 L386.20,343.45 L386.70,344.87 L387.21,346.30 L387.71,347.72 L388.21,349.14 L388.70,350.56 L389.19,351.99 L389.67,353.41 L390.15,354.84 L390.62,356.27 L391.08,357.69 L391.55,359.12 L392.00,360.55 L392.45,361.98 L392.89,363.41 L393.32,364.84 L393.75,366.27 L394.17,367.70 L394.58,369.14 L394.99,370.57 L395.39,372.01 L395.77,373.44 L396.15,374.88 L396.52,376.32 L396.88,377.76 L397.24,379.20 L397.58,380.64 L397.91,382.08 L398.23,383.52 L398.54,384.97 L398.84,386.42 L399.13,387.86 L399.41,389.31 L399.68,390.76 L399.93,392.21 L400.17,393.66 L400.40,395.12 L400.62,396.57 L400.83,398.03 L401.02,399.48 L401.20,400.94 L401.37,402.40 L401.54,403.87 L401.70,405.33 L401.85,406.80 L401.99,408.28 L402.14,409.75 L402.28,411.23 L402.42,412.72 L402.57,414.21 L402.71,415.70 L402.86,417.20 L403.01,418.70 L403.17,420.21 L403.33,421.73 L403.51,423.25 L403.69,424.78 L403.89,426.32 L404.10,427.86 L404.32,429.41 L404.55,430.97 L404.80,432.54 L405.07,434.11 L405.36,435.70 L405.67,437.29 L406.00,438.89 L406.35,440.50 L406.73,442.12 L407.13,443.76 L407.56,445.40 L408.01,447.04 L408.50,448.64 L409.02,450.18 L409.58,451.62 L410.17,452.94 L410.81,454.10 L411.49,455.08 L412.22,455.84 L412.99,456.36 L413.82,456.60 L414.70,456.54 L415.63,456.18 L416.59,455.57 L417.56,454.74 L418.53,453.73 L419.49,452.58 L420.42,451.32 L421.29,450.00 L422.12,448.64 L422.89,447.25 L423.63,445.84 L424.33,444.41 L425.00,442.97 L425.65,441.52 L426.29,440.07 L426.93,438.63 L427.56,437.20 L428.19,435.78 L428.81,434.36 L429.44,432.95 L430.06,431.54 L430.68,430.15 L431.29,428.75 L431.90,427.37 L432.52,425.99 L433.13,424.61 L433.74,423.23 L434.35,421.87 L434.95,420.50 L435.56,419.14 L436.17,417.78 L436.77,416.42 L437.38,415.06 L437.98,413.71 L438.59,412.36 L439.20,411.01 L439.81,409.65 L440.41,408.30 L441.02,406.95 L441.64,405.60 L442.25,404.25 L442.86,402.89 L443.48,401.54 L444.10,400.19 L444.72,398.83 L445.34,397.48 L445.96,396.12 L446.59,394.77 L447.22,393.41 L447.85,392.06 L448.48,390.70 L449.12,389.34 L449.75,387.99 L450.39,386.64 L451.03,385.28 L451.68,383.93 L452.33,382.57 L452.98,381.22 L453.63,379.87 L454.29,378.52 L454.95,377.17 L455.61,375.82 L456.27,374.47 L456.94,373.13 L457.61,371.78 L458.29,370.44 L458.97,369.10 L459.65,367.75 L460.33,366.41 L461.02,365.08 L461.72,363.74 L462.41,362.41 L463.11,361.07 L463.82,359.74 L464.53,358.41 L465.24,357.09 L465.96,355.76 L466.68,354.44 L467.41,353.12 L468.14,351.81 L468.87,350.49 L469.61,349.18 L470.35,347.87 L471.10,346.56 L471.85,345.26 L472.61,343.96 L473.37,342.66 L474.14,341.37 L474.92,340.08 L475.69,338.79 L476.48,337.50 L477.26,336.22 L478.06,334.94 L478.86,333.67 L479.66,332.40 L480.47,331.13 L481.29,329.87 L482.11,328.61 L482.94,327.35 L483.77,326.10 L484.61,324.85 L485.46,323.61 L486.31,322.37 L487.16,321.14 L488.03,319.91 L488.90,318.68 L489.77,317.46 L490.66,316.25 L491.55,315.04 L492.44,313.83 L493.35,312.63 L494.25,311.43 L495.17,310.24 L496.09,309.05 L497.02,307.87 L497.95,306.69 L498.88,305.51 L499.83,304.34 L500.77,303.17 L501.72,302.01 L502.68,300.84 L503.64,299.68 L504.60,298.53 L505.56,297.37 L506.53,296.22 L507.51,295.07 L508.48,293.92 L509.46,292.78 L510.44,291.64 L511.42,290.49 L512.40,289.35 L513.39,288.21 L514.37,287.08 L515.36,285.94 L516.35,284.80 L517.34,283.67 L518.33,282.53 L519.32,281.39 L520.31,280.26 L521.30,279.12 L522.28,277.99 L523.27,276.85 L524.26,275.71 L525.24,274.58 L526.23,273.44 L527.21,272.30 L528.19,271.16 L529.17,270.01 L530.14,268.87 L531.12,267.72 L532.09,266.58 L533.05,265.43 L534.02,264.27 L534.98,263.12 L535.93,261.96 L536.88,260.80 L537.83,259.64 L538.77,258.47 L539.71,257.30 L540.65,256.13 L541.58,254.95 L542.50,253.77 L543.42,252.59 L544.34,251.41 L545.25,250.22 L546.16,249.03 L547.07,247.83 L547.97,246.64 L548.86,245.44 L549.75,244.24 L550.64,243.03 L551.53,241.83 L552.41,240.61 L553.28,239.40 L554.16,238.19 L555.03,236.97 L555.89,235.75 L556.75,234.52 L557.61,233.30 L558.46,232.07 L559.32,230.84 L560.16,229.61 L561.01,228.37 L561.85,227.13 L562.68,225.89 L563.52,224.65 L564.35,223.40 L565.17,222.16 L566.00,220.91 L566.82,219.66 L567.64,218.40 L568.45,217.15 L569.26,215.89 L570.07,214.63 L570.87,213.37 L571.68,212.10 L572.48,210.84 L573.27,209.57 L574.06,208.30 L574.86,207.02 L575.64,205.75 L576.43,204.47 L577.21,203.20 L577.99,201.92 L578.77,200.64 L579.54,199.35 L580.32,198.07 L581.09,196.78 L581.85,195.49 L582.62,194.20 L583.38,192.91 L584.14,191.62 L584.90,190.32 L585.65,189.03 L586.41,187.73 L587.16,186.43 L587.91,185.13 L588.66,183.83 L589.40,182.53 L590.14,181.22 L590.89,179.92 L591.63,178.61 L592.36,177.30 L593.10,175.99 L593.83,174.68 L594.57,173.37 L595.30,172.05 L596.03,170.74 L596.75,169.42 L597.48,168.11 L598.20,166.79 L598.93,165.47 L599.65,164.15 L600.37,162.83 L601.08,161.51 L601.80,160.19 L602.52,158.87 L603.23,157.54 L603.95,156.22 L604.66,154.89 L605.37,153.57 L606.08,152.24 L606.79,150.91 L607.50,149.58 L608.20,148.25 L608.91,146.93 L609.61,145.60 L610.32,144.26 L611.02,142.93 L611.72,141.60 L612.43,140.27 L613.13,138.94 L613.83,137.61 L614.53,136.27 L615.23,134.94 L615.93,133.60 L616.63,132.27 L617.32,130.94 L618.02,129.60 L618.72,128.27 L619.42,126.93 L620.11,125.60 L620.81,124.26 L621.51,122.93 L622.20,121.59 L622.90,120.26 L623.59,118.92 L624.29,117.59 L624.99,116.25 L625.68,114.92 L626.38,113.58 L627.07,112.25 L627.77,110.91 L628.47,109.58 L629.16,108.24 L629.86,106.91 L630.56,105.58 L631.26,104.24 L631.96,102.91 L632.65,101.58 L633.35,100.25 L634.05,98.92 L634.75,97.58 L635.45,96.25 L636.16,94.92 L636.86,93.59 L637.56,92.27 L638.27,90.94 L638.97,89.61 L639.68,88.28 L640.38,86.96 L641.09,85.63 L641.81,84.31 L642.52,82.99 L643.25,81.68 L643.98,80.37 L644.71,79.06 L645.46,77.76 L646.21,76.47 L646.97,75.18 L647.74,73.90 L648.53,72.62 L649.32,71.36 L650.13,70.10 L650.95,68.86 L651.79,67.62 L652.64,66.39 L653.51,65.18 L654.40,63.98 L655.31,62.79 L656.23,61.61 L657.18,60.44 L658.14,59.29 L659.13,58.16 L660.14,57.04 L661.17,55.94 L662.23,54.85 L663.31,53.78 L664.42,52.73 L665.56,51.69 L666.73,50.68 L667.92,49.68 L669.14,48.71 L670.39,47.75 L671.67,46.83 L672.97,45.93 L674.29,45.07 L675.63,44.25 L676.99,43.46 L678.35,42.73 L679.73,42.04 L681.12,41.40 L682.51,40.83 L683.91,40.31 L685.30,39.86 L686.70,39.47 L688.08,39.16 L689.47,38.92 L690.84,38.77 L692.20,38.69 L693.54,38.71 L694.87,38.81 L696.18,39.01 L697.46,39.31 L698.72,39.71 L699.96,40.21 L701.16,40.82 L702.34,41.52 L703.49,42.32 L704.62,43.19 L705.71,44.15 L706.79,45.18 L707.83,46.28 L708.85,47.45 L709.85,48.66 L710.82,49.93 L711.76,51.24 L712.68,52.60 L713.58,53.98 L714.45,55.39 L715.30,56.83 L716.13,58.28 L716.93,59.74 L717.71,61.20 L718.47,62.67 L719.21,64.12 L719.92,65.57 L720.61,66.99 L721.29,68.39 L721.94,69.78 L722.57,71.14 L723.19,72.50 L723.80,73.84 L724.38,75.18 L724.96,76.51 L725.53,77.85 L726.08,79.20 L726.63,80.54 L727.17,81.90 L727.70,83.26 L728.22,84.63 L728.74,86.00 L729.24,87.37 L729.74,88.76 L730.23,90.14 L730.71,91.53 L731.19,92.93 L731.65,94.33 L732.12,95.74 L732.57,97.15 L733.02,98.56 L733.46,99.98 L733.89,101.40 L734.32,102.83 L734.74,104.26 L735.15,105.69 L735.56,107.12 L735.97,108.56 L736.37,110.01 L736.76,111.45 L737.15,112.90 L737.53,114.35 L737.91,115.80 L738.28,117.26 L738.65,118.71 L739.01,120.17 L739.38,121.64 L739.73,123.10 L740.08,124.56 L740.43,126.03 L740.78,127.50 L741.12,128.97 L741.46,130.44 L741.80,131.91 L742.13,133.38 L742.46,134.85 L742.79,136.33 L743.12,137.80 L743.44,139.28 L743.76,140.75 L744.08,142.23 L744.40,143.70 L744.71,145.17 L745.02,146.65 L745.34,148.13 L745.64,149.60 L745.95,151.08 L746.26,152.55 L746.56,154.03 L746.86,155.51 L747.16,156.98 L747.45,158.46 L747.75,159.94 L748.04,161.42 L748.33,162.89 L748.62,164.37 L748.91,165.85 L749.19,167.33 L749.47,168.81 L749.75,170.29 L750.03,171.77 L750.31,173.25 L750.58,174.73 L750.86,176.21 L751.13,177.69 L751.40,179.17 L751.66,180.65 L751.93,182.13 L752.19,183.61 L752.45,185.09 L752.71,186.57 L752.97,188.06 L753.23,189.54 L753.48,191.02 L753.74,192.50 L753.99,193.98 L754.24,195.47 L754.48,196.95 L754.73,198.43 L754.97,199.92 L755.21,201.40 L755.45,202.88 L755.69,204.37 L755.93,205.85 L756.16,207.34 L756.40,208.82 L756.63,210.31 L756.86,211.79 L757.09,213.28 L757.32,214.76 L757.54,216.25 L757.76,217.73 L757.99,219.22 L758.21,220.71 L758.43,222.19 L758.64,223.68 L758.86,225.16 L759.07,226.65 L759.28,228.14 L759.50,229.63 L759.70,231.11 L759.91,232.60 L760.12,234.09 L760.32,235.58 L760.53,237.06 L760.73,238.55 L760.93,240.04 L761.13,241.53 L761.33,243.02 L761.52,244.51 L761.72,246.00 L761.91,247.49 L762.10,248.97 L762.29,250.46 L762.48,251.95 L762.67,253.44 L762.85,254.93 L763.04,256.42 L763.22,257.91 L763.40,259.41 L763.59,260.90 L763.77,262.39 L763.94,263.88 L764.12,265.37 L764.30,266.86 L764.47,268.35 L764.64,269.84 L764.81,271.33 L764.99,272.83 L765.15,274.32 L765.32,275.81 L765.49,277.30 L765.65,278.80 L765.82,280.29 L765.98,281.78 L766.14,283.27 L766.30,284.77 L766.46,286.26 L766.62,287.75 L766.78,289.25 L766.94,290.74 L767.09,292.23 L767.25,293.73 L767.40,295.22 L767.55,296.71 L767.70,298.21 L767.85,299.70 L768.00,301.20 L768.15,302.69 L768.29,304.19 L768.44,305.68 L768.58,307.17 L768.73,308.67 L768.87,310.16 L769.01,311.66 L769.15,313.15 L769.29,314.65 L769.43,316.15 L769.57,317.64 L769.70,319.14 L769.84,320.63 L769.97,322.13 L770.11,323.62 L770.24,325.12 L770.37,326.62 L770.50,328.11 L770.63,329.61 L770.76,331.11 L770.89,332.60 L771.02,334.10 L771.14,335.59 L771.27,337.09 L771.40,338.59 L771.52,340.09 L771.64,341.58 L771.77,343.08 L771.89,344.58 L772.01,346.07 L772.13,347.57 L772.25,349.07 L772.37,350.57 L772.49,352.06 L772.60,353.56 L772.72,355.06 L772.84,356.56 L772.95,358.05 L773.07,359.55 L773.18,361.05 L773.30,362.55 L773.41,364.05 L773.52,365.54 L773.63,367.04 L773.74,368.54 L773.85,370.04 L773.96,371.54 L774.07,373.04 L774.18,374.54 L774.29,376.03 L774.40,377.53 L774.50,379.03 L774.61,380.53 L774.72,382.03 L774.82,383.53 L774.93,385.03 L775.03,386.53 L775.13,388.02 L775.24,389.52 L775.34,391.02 L775.44,392.52 L775.55,394.02 L775.65,395.52 L775.75,397.02 L775.85,398.52 L775.95,400.02 L776.05,401.52 L776.15,403.02 L776.25,404.52 L776.35,406.02 L776.45,407.52 L776.55,409.02 L776.64,410.51 L776.74,412.01 L776.84,413.51 L776.93,415.01 L777.03,416.51 L777.13,418.01 L777.22,419.51 L777.32,421.01 L777.42,422.51 L777.51,424.01 L777.61,425.51 L777.70,427.01 L777.80,428.51 L777.89,430.01 L777.98,431.51 L778.08,433.01 L778.17,434.51 L778.27,436.01 L778.36,437.51 L778.45,439.01 L778.55,440.51 L778.64,442.01 L778.73,443.51 L778.83,445.01 L778.92,446.51 L779.01,448.01 L779.10,449.51 L779.20,451.01 L779.29,452.51 L779.38,454.01 L779.48,455.51 L779.57,457.01 L779.66,458.51 L779.75,460.01 L779.85,461.51 L779.94,463.01 L780.03,464.51 L780.12,466.01 L780.22,467.51 L780.31,469.01 L780.40,470.51 L780.49,472.01 L780.59,473.50 L780.68,475.00 L780.77,476.50 L780.87,478.00 L780.96,479.50 L781.05,481.00 L781.15,482.50 L781.24,484.00 L781.34,485.50 L781.43,487.00 L781.52,488.50 L781.62,490.00 L781.71,491.50 L781.81,493.00 L781.90,494.50 L782.00,496.00 L782.10,497.49 L782.19,498.99 L782.29,500.49 L782.38,501.99 L782.48,503.49 L782.58,504.99 L782.68,506.49 L782.77,507.99 L782.87,509.48 L782.97,510.98" stroke="#000" stroke-width="2.70"/>
</g>
<g stroke="#E51E10" stroke-width="1.9" fill="#E51E10">
<rect x="185.10" y="312.70" width="7.2" height="7.20" stroke="none"/>
<rect x="341.10" y="219.10" width="7.2" height="7.00" stroke="none"/>
<rect x="363.30" y="291.80" width="7.2" height="7.80" stroke="none"/>
<path d="M220.20,237.30 V243.80 M216.60,237.30 h7.2 M216.60,243.80 h7.2 M258.20,201.00 V229.10 M254.60,201.00 h7.2 M254.60,229.10 h7.2 M272.80,170.30 V184.00 M269.20,170.30 h7.2 M269.20,184.00 h7.2 M292.00,168.50 V182.80 M288.40,168.50 h7.2 M288.40,182.80 h7.2 M339.60,211.30 V218.60 M336.00,211.30 h7.2 M336.00,218.60 h7.2 M356.20,255.20 V263.10 M352.60,255.20 h7.2 M352.60,263.10 h7.2 M359.10,267.40 V282.00 M355.50,267.40 h7.2 M355.50,282.00 h7.2 M487.50,316.40 V329.80 M483.90,316.40 h7.2 M483.90,329.80 h7.2 M490.10,315.50 V327.20 M486.50,315.50 h7.2 M486.50,327.20 h7.2 M493.50,313.60 V324.50 M489.90,313.60 h7.2 M489.90,324.50 h7.2 M496.50,312.50 V321.50 M492.90,312.50 h7.2 M492.90,321.50 h7.2 M499.50,304.40 V314.70 M495.90,304.40 h7.2 M495.90,314.70 h7.2 M502.10,298.30 V310.80 M498.50,298.30 h7.2 M498.50,310.80 h7.2 M503.80,296.20 V309.50 M500.20,296.20 h7.2 M500.20,309.50 h7.2 M511.60,292.90 V310.60 M508.00,292.90 h7.2 M508.00,310.60 h7.2 M689.20,26.70 V42.40 M685.60,26.70 h7.2 M685.60,42.40 h7.2 M699.30,28.40 V44.10 M695.70,28.40 h7.2 M695.70,44.10 h7.2 M709.60,52.50 V74.90 M706.00,52.50 h7.2 M706.00,74.90 h7.2 M719.80,38.80 V64.60 M716.20,38.80 h7.2 M716.20,64.60 h7.2 M730.10,50.60 V89.90 M726.50,50.60 h7.2 M726.50,89.90 h7.2 M740.20,97.60 V194.60 M736.60,97.60 h7.2 M736.60,194.60 h7.2" fill="none"/>
<circle cx="153.30" cy="470.20" r="3.6" stroke="none"/>
<circle cx="172.60" cy="370.60" r="3.6" stroke="none"/>
<circle cx="188.70" cy="316.30" r="3.6" stroke="none"/>
<circle cx="220.20" cy="240.50" r="3.6" stroke="none"/>
<circle cx="258.20" cy="213.60" r="3.6" stroke="none"/>
<circle cx="272.80" cy="176.90" r="3.6" stroke="none"/>
<circle cx="292.00" cy="175.50" r="3.6" stroke="none"/>
<circle cx="334.60" cy="203.20" r="3.6" stroke="none"/>
<circle cx="339.60" cy="214.70" r="3.6" stroke="none"/>
<circle cx="344.70" cy="222.60" r="3.6" stroke="none"/>
<circle cx="356.20" cy="259.10" r="3.6" stroke="none"/>
<circle cx="359.10" cy="275.00" r="3.6" stroke="none"/>
<circle cx="366.90" cy="295.70" r="3.6" stroke="none"/>
<circle cx="487.50" cy="322.40" r="3.6" stroke="none"/>
<circle cx="490.10" cy="320.30" r="3.6" stroke="none"/>
<circle cx="493.50" cy="318.60" r="3.6" stroke="none"/>
<circle cx="496.50" cy="316.80" r="3.6" stroke="none"/>
<circle cx="499.50" cy="310.00" r="3.6" stroke="none"/>
<circle cx="502.10" cy="304.80" r="3.6" stroke="none"/>
<circle cx="503.80" cy="302.60" r="3.6" stroke="none"/>
<circle cx="511.60" cy="301.20" r="3.6" stroke="none"/>
<circle cx="689.20" cy="34.50" r="3.6" stroke="none"/>
<circle cx="699.30" cy="36.10" r="3.6" stroke="none"/>
<circle cx="709.60" cy="62.90" r="3.6" stroke="none"/>
<circle cx="719.80" cy="50.60" r="3.6" stroke="none"/>
<circle cx="730.10" cy="67.70" r="3.6" stroke="none"/>
<circle cx="740.20" cy="130.40" r="3.6" stroke="none"/>
</g>
<rect x="124.65" y="20.65" width="674.35" height="490.70" fill="none" stroke="#000" stroke-width="1.45"/>
<g font-family="'Liberation Sans', sans-serif" font-size="23" fill="#000" stroke="#000" stroke-width="0.35" opacity="0.999">
<text x="243.6" y="90.4" text-anchor="end">SSA</text>
<path d="M257.8,82.4 H320.4" stroke="#9400D3" stroke-width="2.40"/>
<text x="243.6" y="115.8" text-anchor="end">SSC</text>
<path d="M257.8,107.8 H320.4" stroke="#FF7733" stroke-width="2.40"/>
<text x="243.6" y="141.2" text-anchor="end">Dust</text>
<path d="M257.8,133.2 H320.4" stroke="#56B4E9" stroke-width="1.80"/>
<text x="243.6" y="166.5" text-anchor="end">Disk</text>
<path d="M257.8,158.5 H320.4" stroke="#E69F00" stroke-width="2.40"/>
<text x="472.2" y="90.4" text-anchor="end">EC/Dust</text>
<path d="M486.4,82.4 H549.2" stroke="#0000FF" stroke-width="2.40"/>
<text x="472.2" y="115.8" text-anchor="end">EC/BLR</text>
<path d="M486.4,107.8 H549.2" stroke="#556B2F" stroke-width="2.40"/>
<text x="472.2" y="141.2" text-anchor="end">EC/Hα</text>
<path d="M486.4,133.2 H549.2" stroke="#FF00FF" stroke-width="2.40"/>
<text x="472.2" y="166.5" text-anchor="end">Model J=27</text>
<path d="M486.4,158.5 H549.2" stroke="#000" stroke-width="2.70"/>
<text x="480.8" y="49" text-anchor="middle" font-size="27.5">Epoch D</text>
<text x="165.70" y="538.4" text-anchor="middle">10<tspan font-size="18.4" dy="-11">10</tspan></text>
<text x="247.47" y="538.4" text-anchor="middle">10<tspan font-size="18.4" dy="-11">12</tspan></text>
<text x="329.24" y="538.4" text-anchor="middle">10<tspan font-size="18.4" dy="-11">14</tspan></text>
<text x="411.02" y="538.4" text-anchor="middle">10<tspan font-size="18.4" dy="-11">16</tspan></text>
<text x="492.79" y="538.4" text-anchor="middle">10<tspan font-size="18.4" dy="-11">18</tspan></text>
<text x="574.56" y="538.4" text-anchor="middle">10<tspan font-size="18.4" dy="-11">20</tspan></text>
<text x="656.33" y="538.4" text-anchor="middle">10<tspan font-size="18.4" dy="-11">22</tspan></text>
<text x="738.10" y="538.4" text-anchor="middle">10<tspan font-size="18.4" dy="-11">24</tspan></text>
<text x="113.2" y="125.10" text-anchor="end">10<tspan font-size="18.4" dy="-11.4">-10</tspan></text>
<text x="113.2" y="283.70" text-anchor="end">10<tspan font-size="18.4" dy="-11.4">-11</tspan></text>
<text x="113.2" y="442.30" text-anchor="end">10<tspan font-size="18.4" dy="-11.4">-12</tspan></text>
<text x="461.6" y="562.2" text-anchor="middle">ν (Hz)</text>
<text transform="translate(51.3,265.7) rotate(-90)" text-anchor="middle">ν F<tspan font-size="18.4" dy="6.6">ν</tspan><tspan dy="-6.6"> (erg cm</tspan><tspan font-size="18.4" dy="-11">-2</tspan><tspan dy="11"> s</tspan><tspan font-size="18.4" dy="-11">-1</tspan><tspan dy="11">)</tspan></text>
</g>
</svg>
</body></html>
